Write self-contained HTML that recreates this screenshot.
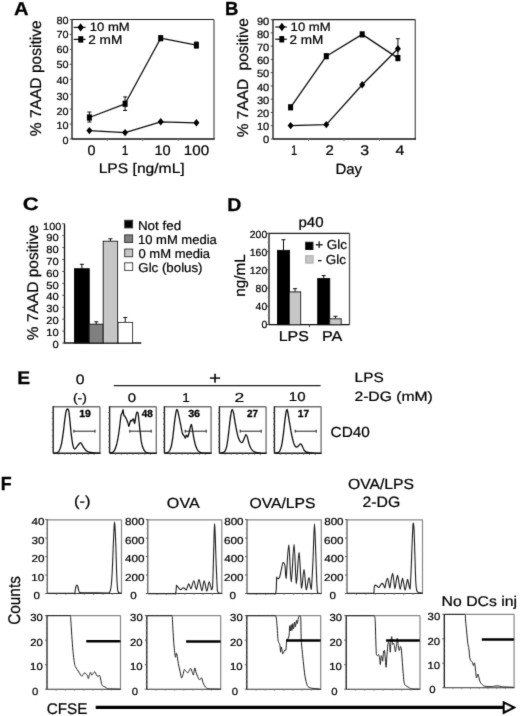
<!DOCTYPE html>
<html><head><meta charset="utf-8"><title>Figure</title>
<style>
html,body{margin:0;padding:0;background:#fff;}
svg{display:block;font-family:"Liberation Sans", sans-serif;text-rendering:geometricPrecision;}
</style></head>
<body>
<svg width="520" height="716" viewBox="0 0 520 716">
<defs><filter id="bl" x="0" y="0" width="100%" height="100%"><feConvolveMatrix order="3" kernelMatrix="1 8 1 8 64 8 1 8 1" divisor="100" edgeMode="none"/></filter></defs>
<rect x="0" y="0" width="520" height="716" fill="#fff"/>
<g filter="url(#bl)">
<text transform="translate(14.00,14.90) scale(1.0778,1)" font-size="18.696" font-weight="bold" fill="#000" stroke="#000" stroke-width="0.30">A</text>
<line x1="72.00" y1="19.50" x2="214.00" y2="19.50" stroke="#1a1a1a" stroke-width="1.2"/>
<line x1="214.00" y1="19.50" x2="214.00" y2="139.00" stroke="#666" stroke-width="1.4"/>
<line x1="72.00" y1="18.90" x2="72.00" y2="139.00" stroke="#111" stroke-width="1.3"/>
<line x1="72.00" y1="139.00" x2="214.70" y2="139.00" stroke="#111" stroke-width="1.3"/>
<line x1="69.80" y1="139.00" x2="72.00" y2="139.00" stroke="#444" stroke-width="1"/>
<text transform="translate(62.42,144.35) scale(1.0533,1)" font-size="10.282" fill="#000" stroke="#000" stroke-width="0.22">0</text>
<line x1="69.80" y1="124.06" x2="72.00" y2="124.06" stroke="#444" stroke-width="1"/>
<text transform="translate(56.41,129.35) scale(1.0533,1)" font-size="10.282" fill="#000" stroke="#000" stroke-width="0.22">10</text>
<line x1="69.80" y1="109.12" x2="72.00" y2="109.12" stroke="#444" stroke-width="1"/>
<text transform="translate(56.41,114.75) scale(1.0533,1)" font-size="10.282" fill="#000" stroke="#000" stroke-width="0.22">20</text>
<line x1="69.80" y1="94.19" x2="72.00" y2="94.19" stroke="#444" stroke-width="1"/>
<text transform="translate(56.41,99.55) scale(1.0533,1)" font-size="10.282" fill="#000" stroke="#000" stroke-width="0.22">30</text>
<line x1="69.80" y1="79.25" x2="72.00" y2="79.25" stroke="#444" stroke-width="1"/>
<text transform="translate(56.41,83.55) scale(1.0533,1)" font-size="10.282" fill="#000" stroke="#000" stroke-width="0.22">40</text>
<line x1="69.80" y1="64.31" x2="72.00" y2="64.31" stroke="#444" stroke-width="1"/>
<text transform="translate(56.41,67.95) scale(1.0533,1)" font-size="10.282" fill="#000" stroke="#000" stroke-width="0.22">50</text>
<line x1="69.80" y1="49.38" x2="72.00" y2="49.38" stroke="#444" stroke-width="1"/>
<text transform="translate(56.41,53.05) scale(1.0533,1)" font-size="10.282" fill="#000" stroke="#000" stroke-width="0.22">60</text>
<line x1="69.80" y1="34.44" x2="72.00" y2="34.44" stroke="#444" stroke-width="1"/>
<text transform="translate(56.41,38.35) scale(1.0533,1)" font-size="10.282" fill="#000" stroke="#000" stroke-width="0.22">70</text>
<line x1="69.80" y1="19.50" x2="72.00" y2="19.50" stroke="#444" stroke-width="1"/>
<text transform="translate(56.41,23.50) scale(1.0533,1)" font-size="10.282" fill="#000" stroke="#000" stroke-width="0.22">80</text>
<line x1="107.25" y1="139.00" x2="107.25" y2="141.00" stroke="#777" stroke-width="1"/>
<line x1="142.75" y1="139.00" x2="142.75" y2="141.00" stroke="#777" stroke-width="1"/>
<line x1="178.25" y1="139.00" x2="178.25" y2="141.00" stroke="#777" stroke-width="1"/>
<text transform="translate(87.43,154.50) scale(1.0374,1)" font-size="13.800" fill="#000" stroke="#000" stroke-width="0.22">0</text>
<text transform="translate(121.79,154.50) scale(0.8763,1)" font-size="13.800" fill="#000" stroke="#000" stroke-width="0.22">1</text>
<text transform="translate(154.41,154.50) scale(1.0560,1)" font-size="13.800" fill="#000" stroke="#000" stroke-width="0.22">10</text>
<text transform="translate(183.86,154.50) scale(1.0986,1)" font-size="13.800" fill="#000" stroke="#000" stroke-width="0.22">100</text>
<text transform="translate(98.65,173.30) scale(1.1255,1)" font-size="13.900" fill="#000" stroke="#000" stroke-width="0.22">LPS [ng/mL]</text>
<text transform="translate(40.75,136.25) rotate(-90) scale(0.9983,1)" font-size="15.600" fill="#000" stroke="#000" stroke-width="0.22">% 7AAD positive</text>
<line x1="73.75" y1="27.40" x2="85.60" y2="27.40" stroke="#111" stroke-width="1.2"/>
<polygon points="80.60,23.20 83.70,27.40 80.60,31.60 77.50,27.40" fill="#000"/>
<text transform="translate(89.72,31.28) scale(1.0867,1)" font-size="12.042" fill="#000" stroke="#000" stroke-width="0.22">10 mM</text>
<line x1="73.75" y1="39.40" x2="85.60" y2="39.40" stroke="#111" stroke-width="1.2"/>
<rect x="78.30" y="36.20" width="5.00" height="6.40" fill="#000"/>
<text transform="translate(88.17,44.40) scale(1.0864,1)" font-size="12.571" fill="#000" stroke="#000" stroke-width="0.22">2 mM</text>
<polyline points="89.40,130.60 125.10,132.60 160.70,121.80 196.40,122.80" fill="none" stroke="#111" stroke-width="1.3" stroke-linejoin="round"/>
<polyline points="89.40,117.50 125.10,103.80 160.70,38.20 196.40,45.20" fill="none" stroke="#111" stroke-width="1.3" stroke-linejoin="round"/>
<line x1="89.40" y1="112.00" x2="89.40" y2="122.00" stroke="#111" stroke-width="1.0"/>
<line x1="87.40" y1="112.00" x2="91.40" y2="112.00" stroke="#111" stroke-width="1.0"/>
<line x1="87.40" y1="122.00" x2="91.40" y2="122.00" stroke="#111" stroke-width="1.0"/>
<line x1="125.10" y1="96.90" x2="125.10" y2="110.50" stroke="#111" stroke-width="1.0"/>
<line x1="123.10" y1="96.90" x2="127.10" y2="96.90" stroke="#111" stroke-width="1.0"/>
<line x1="123.10" y1="110.50" x2="127.10" y2="110.50" stroke="#111" stroke-width="1.0"/>
<line x1="160.70" y1="36.50" x2="160.70" y2="40.00" stroke="#111" stroke-width="1.0"/>
<line x1="158.70" y1="36.50" x2="162.70" y2="36.50" stroke="#111" stroke-width="1.0"/>
<line x1="158.70" y1="40.00" x2="162.70" y2="40.00" stroke="#111" stroke-width="1.0"/>
<line x1="196.40" y1="42.00" x2="196.40" y2="48.00" stroke="#111" stroke-width="1.0"/>
<line x1="194.40" y1="42.00" x2="198.40" y2="42.00" stroke="#111" stroke-width="1.0"/>
<line x1="194.40" y1="48.00" x2="198.40" y2="48.00" stroke="#111" stroke-width="1.0"/>
<polygon points="89.40,126.90 92.40,130.60 89.40,134.30 86.40,130.60" fill="#000"/>
<polygon points="125.10,128.90 128.10,132.60 125.10,136.30 122.10,132.60" fill="#000"/>
<polygon points="160.70,118.10 163.70,121.80 160.70,125.50 157.70,121.80" fill="#000"/>
<polygon points="196.40,119.10 199.40,122.80 196.40,126.50 193.40,122.80" fill="#000"/>
<rect x="86.90" y="114.40" width="5.00" height="6.20" fill="#000"/>
<rect x="122.60" y="100.70" width="5.00" height="6.20" fill="#000"/>
<rect x="158.20" y="35.10" width="5.00" height="6.20" fill="#000"/>
<rect x="193.90" y="42.10" width="5.00" height="6.20" fill="#000"/>
<text transform="translate(224.90,14.90) scale(0.9757,1)" font-size="18.986" font-weight="bold" fill="#000" stroke="#000" stroke-width="0.30">B</text>
<line x1="273.00" y1="19.60" x2="415.30" y2="19.60" stroke="#1a1a1a" stroke-width="1.2"/>
<line x1="415.30" y1="19.60" x2="415.30" y2="139.00" stroke="#666" stroke-width="1.4"/>
<line x1="273.00" y1="19.00" x2="273.00" y2="139.00" stroke="#111" stroke-width="1.3"/>
<line x1="273.00" y1="139.00" x2="416.00" y2="139.00" stroke="#111" stroke-width="1.3"/>
<line x1="270.80" y1="139.00" x2="273.00" y2="139.00" stroke="#444" stroke-width="1"/>
<text transform="translate(263.07,143.44) scale(1.0529,1)" font-size="10.563" fill="#000" stroke="#000" stroke-width="0.22">0</text>
<line x1="270.80" y1="125.73" x2="273.00" y2="125.73" stroke="#444" stroke-width="1"/>
<text transform="translate(256.90,130.24) scale(1.0529,1)" font-size="10.563" fill="#000" stroke="#000" stroke-width="0.22">10</text>
<line x1="270.80" y1="112.47" x2="273.00" y2="112.47" stroke="#444" stroke-width="1"/>
<text transform="translate(256.90,117.04) scale(1.0529,1)" font-size="10.563" fill="#000" stroke="#000" stroke-width="0.22">20</text>
<line x1="270.80" y1="99.20" x2="273.00" y2="99.20" stroke="#444" stroke-width="1"/>
<text transform="translate(256.90,103.84) scale(1.0529,1)" font-size="10.563" fill="#000" stroke="#000" stroke-width="0.22">30</text>
<line x1="270.80" y1="85.93" x2="273.00" y2="85.93" stroke="#444" stroke-width="1"/>
<text transform="translate(256.90,90.64) scale(1.0529,1)" font-size="10.563" fill="#000" stroke="#000" stroke-width="0.22">40</text>
<line x1="270.80" y1="72.67" x2="273.00" y2="72.67" stroke="#444" stroke-width="1"/>
<text transform="translate(256.90,77.44) scale(1.0529,1)" font-size="10.563" fill="#000" stroke="#000" stroke-width="0.22">50</text>
<line x1="270.80" y1="59.40" x2="273.00" y2="59.40" stroke="#444" stroke-width="1"/>
<text transform="translate(256.90,64.24) scale(1.0529,1)" font-size="10.563" fill="#000" stroke="#000" stroke-width="0.22">60</text>
<line x1="270.80" y1="46.13" x2="273.00" y2="46.13" stroke="#444" stroke-width="1"/>
<text transform="translate(256.90,51.04) scale(1.0529,1)" font-size="10.563" fill="#000" stroke="#000" stroke-width="0.22">70</text>
<line x1="270.80" y1="32.87" x2="273.00" y2="32.87" stroke="#444" stroke-width="1"/>
<text transform="translate(256.90,37.84) scale(1.0529,1)" font-size="10.563" fill="#000" stroke="#000" stroke-width="0.22">80</text>
<line x1="270.80" y1="19.60" x2="273.00" y2="19.60" stroke="#444" stroke-width="1"/>
<text transform="translate(256.90,24.64) scale(1.0529,1)" font-size="10.563" fill="#000" stroke="#000" stroke-width="0.22">90</text>
<line x1="308.50" y1="139.00" x2="308.50" y2="141.00" stroke="#777" stroke-width="1"/>
<line x1="344.00" y1="139.00" x2="344.00" y2="141.00" stroke="#777" stroke-width="1"/>
<line x1="379.50" y1="139.00" x2="379.50" y2="141.00" stroke="#777" stroke-width="1"/>
<text transform="translate(291.06,155.30) scale(0.7973,1)" font-size="14.000" fill="#000" stroke="#000" stroke-width="0.22">1</text>
<text transform="translate(325.45,155.30) scale(1.0675,1)" font-size="14.000" fill="#000" stroke="#000" stroke-width="0.22">2</text>
<text transform="translate(360.36,155.30) scale(1.1398,1)" font-size="14.000" fill="#000" stroke="#000" stroke-width="0.22">3</text>
<text transform="translate(395.40,155.30) scale(1.1429,1)" font-size="14.000" fill="#000" stroke="#000" stroke-width="0.22">4</text>
<text transform="translate(335.40,173.50) scale(1.0125,1)" font-size="14.800" fill="#000" stroke="#000" stroke-width="0.22">Day</text>
<text transform="translate(248.20,137.14) rotate(-90) scale(0.9869,1)" font-size="15.600" fill="#000" stroke="#000" stroke-width="0.22" xml:space="preserve">% 7AAD  positive</text>
<line x1="275.25" y1="27.00" x2="286.90" y2="27.00" stroke="#111" stroke-width="1.2"/>
<polygon points="281.90,22.80 285.00,27.00 281.90,31.20 278.80,27.00" fill="#000"/>
<text transform="translate(290.62,31.28) scale(1.0896,1)" font-size="12.042" fill="#000" stroke="#000" stroke-width="0.22">10 mM</text>
<line x1="275.25" y1="39.25" x2="286.90" y2="39.25" stroke="#111" stroke-width="1.2"/>
<rect x="279.35" y="36.05" width="4.80" height="6.40" fill="#000"/>
<text transform="translate(289.42,44.40) scale(1.0780,1)" font-size="12.571" fill="#000" stroke="#000" stroke-width="0.22">2 mM</text>
<polyline points="290.60,125.60 326.30,124.60 362.20,84.80 397.90,48.80" fill="none" stroke="#111" stroke-width="1.3" stroke-linejoin="round"/>
<polyline points="290.60,107.30 326.30,56.20 362.20,34.40 397.90,58.10" fill="none" stroke="#111" stroke-width="1.3" stroke-linejoin="round"/>
<line x1="397.90" y1="38.70" x2="397.90" y2="58.90" stroke="#111" stroke-width="1.0"/>
<line x1="395.90" y1="38.70" x2="399.90" y2="38.70" stroke="#111" stroke-width="1.0"/>
<line x1="395.90" y1="58.90" x2="399.90" y2="58.90" stroke="#111" stroke-width="1.0"/>
<polygon points="290.60,121.90 293.60,125.60 290.60,129.30 287.60,125.60" fill="#000"/>
<polygon points="326.30,120.90 329.30,124.60 326.30,128.30 323.30,124.60" fill="#000"/>
<polygon points="362.20,81.10 365.20,84.80 362.20,88.50 359.20,84.80" fill="#000"/>
<polygon points="397.90,45.10 400.90,48.80 397.90,52.50 394.90,48.80" fill="#000"/>
<rect x="288.10" y="104.20" width="5.00" height="6.20" fill="#000"/>
<rect x="323.80" y="53.10" width="5.00" height="6.20" fill="#000"/>
<rect x="359.70" y="31.30" width="5.00" height="6.20" fill="#000"/>
<rect x="395.40" y="55.00" width="5.00" height="6.20" fill="#000"/>
<text transform="translate(22.82,210.12) scale(1.2195,1)" font-size="18.028" font-weight="bold" fill="#000" stroke="#000" stroke-width="0.30">C</text>
<line x1="64.50" y1="223.75" x2="64.50" y2="343.00" stroke="#111" stroke-width="1.3"/>
<line x1="63.75" y1="343.00" x2="141.25" y2="343.00" stroke="#111" stroke-width="1.3"/>
<line x1="62.30" y1="343.00" x2="64.50" y2="343.00" stroke="#444" stroke-width="1"/>
<text transform="translate(52.42,347.75) scale(1.0912,1)" font-size="10.282" fill="#000" stroke="#000" stroke-width="0.22">0</text>
<line x1="62.30" y1="331.07" x2="64.50" y2="331.07" stroke="#444" stroke-width="1"/>
<text transform="translate(46.20,335.93) scale(1.0912,1)" font-size="10.282" fill="#000" stroke="#000" stroke-width="0.22">10</text>
<line x1="62.30" y1="319.15" x2="64.50" y2="319.15" stroke="#444" stroke-width="1"/>
<text transform="translate(46.20,324.11) scale(1.0912,1)" font-size="10.282" fill="#000" stroke="#000" stroke-width="0.22">20</text>
<line x1="62.30" y1="307.23" x2="64.50" y2="307.23" stroke="#444" stroke-width="1"/>
<text transform="translate(46.20,312.29) scale(1.0912,1)" font-size="10.282" fill="#000" stroke="#000" stroke-width="0.22">30</text>
<line x1="62.30" y1="295.30" x2="64.50" y2="295.30" stroke="#444" stroke-width="1"/>
<text transform="translate(46.20,300.47) scale(1.0912,1)" font-size="10.282" fill="#000" stroke="#000" stroke-width="0.22">40</text>
<line x1="62.30" y1="283.38" x2="64.50" y2="283.38" stroke="#444" stroke-width="1"/>
<text transform="translate(46.20,288.65) scale(1.0912,1)" font-size="10.282" fill="#000" stroke="#000" stroke-width="0.22">50</text>
<line x1="62.30" y1="271.45" x2="64.50" y2="271.45" stroke="#444" stroke-width="1"/>
<text transform="translate(46.20,276.83) scale(1.0912,1)" font-size="10.282" fill="#000" stroke="#000" stroke-width="0.22">60</text>
<line x1="62.30" y1="259.52" x2="64.50" y2="259.52" stroke="#444" stroke-width="1"/>
<text transform="translate(46.20,265.01) scale(1.0912,1)" font-size="10.282" fill="#000" stroke="#000" stroke-width="0.22">70</text>
<line x1="62.30" y1="247.60" x2="64.50" y2="247.60" stroke="#444" stroke-width="1"/>
<text transform="translate(46.20,253.19) scale(1.0912,1)" font-size="10.282" fill="#000" stroke="#000" stroke-width="0.22">80</text>
<line x1="62.30" y1="235.68" x2="64.50" y2="235.68" stroke="#444" stroke-width="1"/>
<text transform="translate(46.20,241.37) scale(1.0912,1)" font-size="10.282" fill="#000" stroke="#000" stroke-width="0.22">90</text>
<line x1="62.30" y1="223.75" x2="64.50" y2="223.75" stroke="#444" stroke-width="1"/>
<text transform="translate(43.08,229.50) scale(1.0605,1)" font-size="10.282" fill="#000" stroke="#000" stroke-width="0.22">100</text>
<text transform="translate(38.10,340.14) rotate(-90) scale(0.9931,1)" font-size="15.600" fill="#000" stroke="#000" stroke-width="0.22">% 7AAD positive</text>
<line x1="81.88" y1="268.71" x2="81.88" y2="264.30" stroke="#111" stroke-width="1"/>
<line x1="79.88" y1="264.30" x2="83.88" y2="264.30" stroke="#111" stroke-width="1"/>
<rect x="74.50" y="268.71" width="14.75" height="74.29" fill="#000" stroke="#111" stroke-width="1"/>
<line x1="96.25" y1="324.28" x2="96.25" y2="321.77" stroke="#111" stroke-width="1"/>
<line x1="94.25" y1="321.77" x2="98.25" y2="321.77" stroke="#111" stroke-width="1"/>
<rect x="89.25" y="324.28" width="14.00" height="18.72" fill="#808080" stroke="#111" stroke-width="1"/>
<line x1="110.38" y1="241.28" x2="110.38" y2="238.78" stroke="#111" stroke-width="1"/>
<line x1="108.38" y1="238.78" x2="112.38" y2="238.78" stroke="#111" stroke-width="1"/>
<rect x="103.25" y="241.28" width="14.25" height="101.72" fill="#c6c6c6" stroke="#111" stroke-width="1"/>
<line x1="125.25" y1="322.49" x2="125.25" y2="317.48" stroke="#111" stroke-width="1"/>
<line x1="123.25" y1="317.48" x2="127.25" y2="317.48" stroke="#111" stroke-width="1"/>
<rect x="118.00" y="322.49" width="14.50" height="20.51" fill="#fff" stroke="#111" stroke-width="1"/>
<rect x="124.70" y="220.30" width="7.90" height="7.60" fill="#000" stroke="#333" stroke-width="1"/>
<text transform="translate(137.93,229.50) scale(1.0395,1)" font-size="12.900" fill="#000" stroke="#000" stroke-width="0.22">Not fed</text>
<rect x="124.70" y="234.90" width="7.90" height="7.60" fill="#808080" stroke="#333" stroke-width="1"/>
<text transform="translate(138.02,243.60) scale(1.0085,1)" font-size="12.900" fill="#000" stroke="#000" stroke-width="0.22">10 mM media</text>
<rect x="124.70" y="249.10" width="7.90" height="7.60" fill="#c6c6c6" stroke="#333" stroke-width="1"/>
<text transform="translate(138.48,258.20) scale(1.0095,1)" font-size="12.900" fill="#000" stroke="#000" stroke-width="0.22">0 mM media</text>
<rect x="124.70" y="262.80" width="7.90" height="7.60" fill="#fff" stroke="#333" stroke-width="1"/>
<text transform="translate(138.34,272.00) scale(1.0298,1)" font-size="12.900" fill="#000" stroke="#000" stroke-width="0.22">Glc (bolus)</text>
<text transform="translate(227.13,210.50) scale(1.0437,1)" font-size="18.696" font-weight="bold" fill="#000" stroke="#000" stroke-width="0.30">D</text>
<line x1="269.00" y1="233.30" x2="349.50" y2="233.30" stroke="#222" stroke-width="1.2"/>
<line x1="349.50" y1="233.30" x2="349.50" y2="324.60" stroke="#555" stroke-width="1.3"/>
<line x1="269.00" y1="233.30" x2="269.00" y2="324.60" stroke="#111" stroke-width="1.3"/>
<line x1="269.00" y1="324.60" x2="349.50" y2="324.60" stroke="#111" stroke-width="1.3"/>
<line x1="266.80" y1="324.60" x2="269.00" y2="324.60" stroke="#444" stroke-width="1"/>
<text transform="translate(261.40,328.05) scale(1.0189,1)" font-size="10.282" fill="#000" stroke="#000" stroke-width="0.22">0</text>
<line x1="266.80" y1="306.34" x2="269.00" y2="306.34" stroke="#444" stroke-width="1"/>
<text transform="translate(255.59,309.95) scale(1.0189,1)" font-size="10.282" fill="#000" stroke="#000" stroke-width="0.22">40</text>
<line x1="266.80" y1="288.08" x2="269.00" y2="288.08" stroke="#444" stroke-width="1"/>
<text transform="translate(255.59,291.85) scale(1.0189,1)" font-size="10.282" fill="#000" stroke="#000" stroke-width="0.22">80</text>
<line x1="266.80" y1="269.82" x2="269.00" y2="269.82" stroke="#444" stroke-width="1"/>
<text transform="translate(249.78,273.75) scale(1.0189,1)" font-size="10.282" fill="#000" stroke="#000" stroke-width="0.22">120</text>
<line x1="266.80" y1="251.56" x2="269.00" y2="251.56" stroke="#444" stroke-width="1"/>
<text transform="translate(249.78,255.65) scale(1.0189,1)" font-size="10.282" fill="#000" stroke="#000" stroke-width="0.22">160</text>
<line x1="266.80" y1="233.30" x2="269.00" y2="233.30" stroke="#444" stroke-width="1"/>
<text transform="translate(249.78,237.55) scale(1.0189,1)" font-size="10.282" fill="#000" stroke="#000" stroke-width="0.22">200</text>
<line x1="267.50" y1="315.47" x2="269.00" y2="315.47" stroke="#777" stroke-width="1"/>
<line x1="267.50" y1="297.21" x2="269.00" y2="297.21" stroke="#777" stroke-width="1"/>
<line x1="267.50" y1="278.95" x2="269.00" y2="278.95" stroke="#777" stroke-width="1"/>
<line x1="267.50" y1="260.69" x2="269.00" y2="260.69" stroke="#777" stroke-width="1"/>
<line x1="267.50" y1="242.43" x2="269.00" y2="242.43" stroke="#777" stroke-width="1"/>
<line x1="309.50" y1="324.60" x2="309.50" y2="327.10" stroke="#444" stroke-width="1"/>
<text transform="translate(298.42,226.50) scale(1.0609,1)" font-size="14.200" fill="#000" stroke="#000" stroke-width="0.22">p40</text>
<text transform="translate(244.60,296.80) rotate(-90) scale(1.0230,1)" font-size="15.000" fill="#000" stroke="#000" stroke-width="0.22">ng/mL</text>
<text transform="translate(278.73,341.00) scale(1.1133,1)" font-size="14.300" fill="#000" stroke="#000" stroke-width="0.22">LPS</text>
<text transform="translate(322.01,341.00) scale(1.1319,1)" font-size="14.300" fill="#000" stroke="#000" stroke-width="0.22">PA</text>
<line x1="283.50" y1="250.42" x2="283.50" y2="239.69" stroke="#111" stroke-width="1"/>
<line x1="281.50" y1="239.69" x2="285.50" y2="239.69" stroke="#111" stroke-width="1"/>
<rect x="277.50" y="250.42" width="12.00" height="74.18" fill="#000" stroke="#111" stroke-width="1"/>
<line x1="295.05" y1="291.91" x2="295.05" y2="288.63" stroke="#111" stroke-width="1"/>
<line x1="293.05" y1="288.63" x2="297.05" y2="288.63" stroke="#111" stroke-width="1"/>
<rect x="289.50" y="291.91" width="11.10" height="32.69" fill="#c6c6c6" stroke="#111" stroke-width="1"/>
<line x1="323.70" y1="278.58" x2="323.70" y2="275.57" stroke="#111" stroke-width="1"/>
<line x1="321.70" y1="275.57" x2="325.70" y2="275.57" stroke="#111" stroke-width="1"/>
<rect x="317.70" y="278.58" width="12.00" height="46.02" fill="#000" stroke="#111" stroke-width="1"/>
<line x1="335.45" y1="318.80" x2="335.45" y2="316.29" stroke="#111" stroke-width="1"/>
<line x1="333.45" y1="316.29" x2="337.45" y2="316.29" stroke="#111" stroke-width="1"/>
<rect x="329.70" y="318.80" width="11.50" height="5.80" fill="#c6c6c6" stroke="#111" stroke-width="1"/>
<rect x="305.70" y="242.30" width="7.20" height="7.20" fill="#000" stroke="#111" stroke-width="1"/>
<text transform="translate(315.22,249.37) scale(1.0354,1)" font-size="13.061" fill="#000" stroke="#000" stroke-width="0.22">+ Glc</text>
<rect x="305.70" y="255.70" width="7.40" height="7.40" fill="#c6c6c6" stroke="#aaa" stroke-width="1"/>
<text transform="translate(317.59,263.77) scale(1.0321,1)" font-size="13.061" fill="#000" stroke="#000" stroke-width="0.22">- Glc</text>
<text transform="translate(17.15,383.80) scale(1.0565,1)" font-size="18.261" font-weight="bold" fill="#000" stroke="#000" stroke-width="0.30">E</text>
<text transform="translate(75.77,384.16) scale(1.1557,1)" font-size="13.662" fill="#000" stroke="#000" stroke-width="0.22">0</text>
<text transform="translate(72.96,401.72) scale(1.1336,1)" font-size="12.299" fill="#000" stroke="#000" stroke-width="0.22">(-)</text>
<line x1="113.75" y1="385.70" x2="320.60" y2="385.70" stroke="#222" stroke-width="1.2"/>
<text transform="translate(209.07,383.98) scale(1.1748,1)" font-size="17.551" fill="#000" stroke="#000" stroke-width="0.22">+</text>
<text transform="translate(127.70,401.57) scale(1.1924,1)" font-size="12.535" fill="#000" stroke="#000" stroke-width="0.22">0</text>
<text transform="translate(182.19,401.70) scale(1.0457,1)" font-size="12.899" fill="#000" stroke="#000" stroke-width="0.22">1</text>
<text transform="translate(234.53,401.50) scale(1.3356,1)" font-size="13.000" fill="#000" stroke="#000" stroke-width="0.22">2</text>
<text transform="translate(288.77,401.37) scale(1.1762,1)" font-size="12.817" fill="#000" stroke="#000" stroke-width="0.22">10</text>
<text transform="translate(354.57,381.90) scale(1.1331,1)" font-size="13.600" fill="#000" stroke="#000" stroke-width="0.22">LPS</text>
<text transform="translate(354.42,401.20) scale(1.1530,1)" font-size="13.600" fill="#000" stroke="#000" stroke-width="0.22">2-DG (mM)</text>
<text transform="translate(330.53,436.70) scale(1.0531,1)" font-size="14.600" fill="#000" stroke="#000" stroke-width="0.22">CD40</text>
<line x1="53.20" y1="406.80" x2="99.90" y2="406.80" stroke="#707070" stroke-width="1.4"/>
<line x1="99.90" y1="406.80" x2="99.90" y2="453.30" stroke="#777" stroke-width="1.4"/>
<line x1="53.20" y1="406.10" x2="53.20" y2="453.30" stroke="#222" stroke-width="1.4"/>
<line x1="53.20" y1="453.30" x2="100.50" y2="453.30" stroke="#222" stroke-width="1.4"/>
<line x1="51.80" y1="412.52" x2="53.20" y2="412.52" stroke="#555" stroke-width="0.9"/>
<line x1="59.04" y1="453.30" x2="59.04" y2="454.80" stroke="#555" stroke-width="0.9"/>
<line x1="51.80" y1="418.35" x2="53.20" y2="418.35" stroke="#555" stroke-width="0.9"/>
<line x1="64.88" y1="453.30" x2="64.88" y2="454.80" stroke="#555" stroke-width="0.9"/>
<line x1="51.80" y1="424.18" x2="53.20" y2="424.18" stroke="#555" stroke-width="0.9"/>
<line x1="70.71" y1="453.30" x2="70.71" y2="454.80" stroke="#555" stroke-width="0.9"/>
<line x1="51.80" y1="430.00" x2="53.20" y2="430.00" stroke="#555" stroke-width="0.9"/>
<line x1="76.55" y1="453.30" x2="76.55" y2="454.80" stroke="#555" stroke-width="0.9"/>
<line x1="51.80" y1="435.82" x2="53.20" y2="435.82" stroke="#555" stroke-width="0.9"/>
<line x1="82.39" y1="453.30" x2="82.39" y2="454.80" stroke="#555" stroke-width="0.9"/>
<line x1="51.80" y1="441.65" x2="53.20" y2="441.65" stroke="#555" stroke-width="0.9"/>
<line x1="88.23" y1="453.30" x2="88.23" y2="454.80" stroke="#555" stroke-width="0.9"/>
<line x1="51.80" y1="447.47" x2="53.20" y2="447.47" stroke="#555" stroke-width="0.9"/>
<line x1="94.06" y1="453.30" x2="94.06" y2="454.80" stroke="#555" stroke-width="0.9"/>
<path d="M53.50,453.10 C54.07,453.05 55.95,453.10 56.90,452.80 C57.85,452.42 58.43,452.30 59.20,450.80 C59.97,449.30 60.82,446.88 61.50,443.80 C62.18,440.72 62.75,436.33 63.30,432.30 C63.85,428.27 64.32,423.15 64.80,419.60 C65.28,416.05 65.75,412.77 66.20,411.00 C66.65,409.23 67.08,409.10 67.50,409.00 C67.92,409.00 68.32,409.00 68.70,410.40 C69.08,412.17 69.37,415.57 69.80,419.60 C70.23,423.63 70.75,430.17 71.30,434.60 C71.85,439.03 72.52,443.80 73.10,446.20 C73.68,448.60 74.03,449.00 74.80,449.00 C75.57,448.90 76.73,446.65 77.70,445.60 C78.67,444.55 79.63,442.70 80.60,442.70 C81.57,442.98 82.55,445.95 83.50,447.30 C84.45,448.65 85.15,449.93 86.30,450.80 C87.45,451.67 88.75,452.12 90.40,452.50 C92.05,452.88 94.57,453.00 96.20,453.10 C97.83,453.10 99.53,453.10 100.20,453.10" fill="none" stroke="#111" stroke-width="1.3" stroke-linejoin="round"/>
<text transform="translate(79.22,417.20) scale(1.0189,1)" font-size="10.300" font-weight="bold" fill="#000" stroke="#000" stroke-width="0.30">19</text>
<line x1="73.90" y1="431.20" x2="95.00" y2="431.20" stroke="#222" stroke-width="1.0"/>
<line x1="73.90" y1="429.70" x2="73.90" y2="432.70" stroke="#222" stroke-width="1"/>
<line x1="95.00" y1="429.70" x2="95.00" y2="432.70" stroke="#222" stroke-width="1"/>
<line x1="109.60" y1="406.80" x2="156.30" y2="406.80" stroke="#707070" stroke-width="1.4"/>
<line x1="156.30" y1="406.80" x2="156.30" y2="453.30" stroke="#777" stroke-width="1.4"/>
<line x1="109.60" y1="406.10" x2="109.60" y2="453.30" stroke="#222" stroke-width="1.4"/>
<line x1="109.60" y1="453.30" x2="156.90" y2="453.30" stroke="#222" stroke-width="1.4"/>
<line x1="108.20" y1="412.52" x2="109.60" y2="412.52" stroke="#555" stroke-width="0.9"/>
<line x1="115.44" y1="453.30" x2="115.44" y2="454.80" stroke="#555" stroke-width="0.9"/>
<line x1="108.20" y1="418.35" x2="109.60" y2="418.35" stroke="#555" stroke-width="0.9"/>
<line x1="121.27" y1="453.30" x2="121.27" y2="454.80" stroke="#555" stroke-width="0.9"/>
<line x1="108.20" y1="424.18" x2="109.60" y2="424.18" stroke="#555" stroke-width="0.9"/>
<line x1="127.11" y1="453.30" x2="127.11" y2="454.80" stroke="#555" stroke-width="0.9"/>
<line x1="108.20" y1="430.00" x2="109.60" y2="430.00" stroke="#555" stroke-width="0.9"/>
<line x1="132.95" y1="453.30" x2="132.95" y2="454.80" stroke="#555" stroke-width="0.9"/>
<line x1="108.20" y1="435.82" x2="109.60" y2="435.82" stroke="#555" stroke-width="0.9"/>
<line x1="138.79" y1="453.30" x2="138.79" y2="454.80" stroke="#555" stroke-width="0.9"/>
<line x1="108.20" y1="441.65" x2="109.60" y2="441.65" stroke="#555" stroke-width="0.9"/>
<line x1="144.62" y1="453.30" x2="144.62" y2="454.80" stroke="#555" stroke-width="0.9"/>
<line x1="108.20" y1="447.47" x2="109.60" y2="447.47" stroke="#555" stroke-width="0.9"/>
<line x1="150.46" y1="453.30" x2="150.46" y2="454.80" stroke="#555" stroke-width="0.9"/>
<path d="M110.20,453.30 C110.87,452.88 113.13,452.27 114.20,450.80 C115.27,449.33 115.88,447.13 116.60,444.50 C117.32,441.87 118.00,437.93 118.50,435.00 C119.00,432.07 119.27,429.50 119.60,426.90 C119.93,424.30 120.25,421.42 120.50,419.40 C120.75,417.38 120.88,415.75 121.10,414.80 C121.32,413.85 121.57,414.18 121.80,413.70 C122.03,413.22 122.30,412.58 122.50,411.90 C122.70,411.22 122.85,409.60 123.00,409.60 C123.15,409.70 123.25,411.53 123.40,412.50 C123.55,413.47 123.67,414.82 123.90,415.40 C124.13,415.98 124.55,415.72 124.80,416.00 C125.05,416.28 125.20,416.72 125.40,417.10 C125.60,417.48 125.77,417.82 126.00,418.30 C126.23,418.78 126.52,419.33 126.80,420.00 C127.08,420.67 127.43,421.53 127.70,422.30 C127.97,423.07 128.22,423.92 128.40,424.60 C128.58,425.28 128.63,426.40 128.80,426.40 C128.97,426.40 129.18,425.28 129.40,424.60 C129.62,423.92 129.85,423.02 130.10,422.30 C130.35,421.58 130.63,420.48 130.90,420.30 C131.17,420.30 131.42,421.20 131.70,421.20 C131.98,421.05 132.30,419.80 132.60,419.40 C132.90,419.00 133.27,418.80 133.50,418.80 C133.73,419.18 133.82,420.92 134.00,421.70 C134.18,422.48 134.40,423.50 134.60,423.50 C134.80,423.32 135.00,421.77 135.20,420.60 C135.40,419.43 135.58,417.75 135.80,416.50 C136.02,415.25 136.27,413.82 136.50,413.10 C136.73,412.38 136.95,412.20 137.20,412.20 C137.45,412.20 137.78,412.38 138.00,413.10 C138.22,413.82 138.32,414.97 138.50,416.50 C138.68,418.03 138.90,420.37 139.10,422.30 C139.30,424.23 139.50,426.37 139.70,428.10 C139.90,429.83 140.05,430.55 140.30,432.70 C140.55,434.85 140.83,438.70 141.20,441.00 C141.57,443.30 142.00,444.95 142.50,446.50 C143.00,448.05 143.53,449.30 144.20,450.30 C144.87,451.30 145.33,452.00 146.50,452.50 C147.67,453.00 149.65,453.17 151.20,453.30 C152.75,453.30 155.03,453.30 155.80,453.30" fill="none" stroke="#111" stroke-width="1.3" stroke-linejoin="round"/>
<text transform="translate(141.65,417.20) scale(0.9663,1)" font-size="10.300" font-weight="bold" fill="#000" stroke="#000" stroke-width="0.30">48</text>
<line x1="129.80" y1="431.20" x2="151.20" y2="431.20" stroke="#222" stroke-width="1.0"/>
<line x1="129.80" y1="429.70" x2="129.80" y2="432.70" stroke="#222" stroke-width="1"/>
<line x1="151.20" y1="429.70" x2="151.20" y2="432.70" stroke="#222" stroke-width="1"/>
<line x1="164.40" y1="406.80" x2="211.10" y2="406.80" stroke="#707070" stroke-width="1.4"/>
<line x1="211.10" y1="406.80" x2="211.10" y2="453.30" stroke="#777" stroke-width="1.4"/>
<line x1="164.40" y1="406.10" x2="164.40" y2="453.30" stroke="#222" stroke-width="1.4"/>
<line x1="164.40" y1="453.30" x2="211.70" y2="453.30" stroke="#222" stroke-width="1.4"/>
<line x1="163.00" y1="412.52" x2="164.40" y2="412.52" stroke="#555" stroke-width="0.9"/>
<line x1="170.24" y1="453.30" x2="170.24" y2="454.80" stroke="#555" stroke-width="0.9"/>
<line x1="163.00" y1="418.35" x2="164.40" y2="418.35" stroke="#555" stroke-width="0.9"/>
<line x1="176.08" y1="453.30" x2="176.08" y2="454.80" stroke="#555" stroke-width="0.9"/>
<line x1="163.00" y1="424.18" x2="164.40" y2="424.18" stroke="#555" stroke-width="0.9"/>
<line x1="181.91" y1="453.30" x2="181.91" y2="454.80" stroke="#555" stroke-width="0.9"/>
<line x1="163.00" y1="430.00" x2="164.40" y2="430.00" stroke="#555" stroke-width="0.9"/>
<line x1="187.75" y1="453.30" x2="187.75" y2="454.80" stroke="#555" stroke-width="0.9"/>
<line x1="163.00" y1="435.82" x2="164.40" y2="435.82" stroke="#555" stroke-width="0.9"/>
<line x1="193.59" y1="453.30" x2="193.59" y2="454.80" stroke="#555" stroke-width="0.9"/>
<line x1="163.00" y1="441.65" x2="164.40" y2="441.65" stroke="#555" stroke-width="0.9"/>
<line x1="199.43" y1="453.30" x2="199.43" y2="454.80" stroke="#555" stroke-width="0.9"/>
<line x1="163.00" y1="447.47" x2="164.40" y2="447.47" stroke="#555" stroke-width="0.9"/>
<line x1="205.26" y1="453.30" x2="205.26" y2="454.80" stroke="#555" stroke-width="0.9"/>
<path d="M164.60,453.30 C165.28,453.07 167.63,452.90 168.70,451.90 C169.77,450.90 170.33,449.60 171.00,447.30 C171.67,445.00 172.13,442.13 172.70,438.10 C173.27,434.07 173.87,427.33 174.40,423.10 C174.93,418.87 175.52,414.97 175.90,412.70 C176.28,410.43 176.37,409.70 176.70,409.50 C177.03,409.50 177.52,410.30 177.90,411.50 C178.28,412.70 178.52,414.38 179.00,416.70 C179.48,419.02 180.22,422.60 180.80,425.40 C181.38,428.20 181.93,431.77 182.50,433.50 C183.07,435.23 183.72,435.03 184.20,435.80 C184.68,436.57 185.02,438.10 185.40,438.10 C185.78,438.00 186.12,435.40 186.50,435.20 C186.88,435.20 187.32,436.90 187.70,436.90 C188.08,436.70 188.38,435.53 188.80,434.00 C189.22,432.47 189.77,429.28 190.20,427.70 C190.63,426.12 191.02,424.50 191.40,424.50 C191.78,424.88 192.07,427.55 192.50,430.00 C192.93,432.45 193.45,436.50 194.00,439.20 C194.55,441.90 195.12,444.27 195.80,446.20 C196.48,448.13 197.15,449.70 198.10,450.80 C199.05,451.90 199.38,452.38 201.50,452.80 C203.62,453.22 209.25,453.22 210.80,453.30" fill="none" stroke="#111" stroke-width="1.3" stroke-linejoin="round"/>
<text transform="translate(188.13,417.20) scale(1.0448,1)" font-size="10.300" font-weight="bold" fill="#000" stroke="#000" stroke-width="0.30">36</text>
<line x1="185.20" y1="431.20" x2="206.20" y2="431.20" stroke="#222" stroke-width="1.0"/>
<line x1="185.20" y1="429.70" x2="185.20" y2="432.70" stroke="#222" stroke-width="1"/>
<line x1="206.20" y1="429.70" x2="206.20" y2="432.70" stroke="#222" stroke-width="1"/>
<line x1="219.40" y1="406.80" x2="266.10" y2="406.80" stroke="#707070" stroke-width="1.4"/>
<line x1="266.10" y1="406.80" x2="266.10" y2="453.30" stroke="#777" stroke-width="1.4"/>
<line x1="219.40" y1="406.10" x2="219.40" y2="453.30" stroke="#222" stroke-width="1.4"/>
<line x1="219.40" y1="453.30" x2="266.70" y2="453.30" stroke="#222" stroke-width="1.4"/>
<line x1="218.00" y1="412.52" x2="219.40" y2="412.52" stroke="#555" stroke-width="0.9"/>
<line x1="225.24" y1="453.30" x2="225.24" y2="454.80" stroke="#555" stroke-width="0.9"/>
<line x1="218.00" y1="418.35" x2="219.40" y2="418.35" stroke="#555" stroke-width="0.9"/>
<line x1="231.08" y1="453.30" x2="231.08" y2="454.80" stroke="#555" stroke-width="0.9"/>
<line x1="218.00" y1="424.18" x2="219.40" y2="424.18" stroke="#555" stroke-width="0.9"/>
<line x1="236.91" y1="453.30" x2="236.91" y2="454.80" stroke="#555" stroke-width="0.9"/>
<line x1="218.00" y1="430.00" x2="219.40" y2="430.00" stroke="#555" stroke-width="0.9"/>
<line x1="242.75" y1="453.30" x2="242.75" y2="454.80" stroke="#555" stroke-width="0.9"/>
<line x1="218.00" y1="435.82" x2="219.40" y2="435.82" stroke="#555" stroke-width="0.9"/>
<line x1="248.59" y1="453.30" x2="248.59" y2="454.80" stroke="#555" stroke-width="0.9"/>
<line x1="218.00" y1="441.65" x2="219.40" y2="441.65" stroke="#555" stroke-width="0.9"/>
<line x1="254.43" y1="453.30" x2="254.43" y2="454.80" stroke="#555" stroke-width="0.9"/>
<line x1="218.00" y1="447.47" x2="219.40" y2="447.47" stroke="#555" stroke-width="0.9"/>
<line x1="260.26" y1="453.30" x2="260.26" y2="454.80" stroke="#555" stroke-width="0.9"/>
<path d="M219.60,453.30 C220.37,453.07 223.05,452.90 224.20,451.90 C225.35,450.90 225.82,449.98 226.50,447.30 C227.18,444.62 227.72,440.22 228.30,435.80 C228.88,431.38 229.48,424.85 230.00,420.80 C230.52,416.75 231.02,413.38 231.40,411.50 C231.78,409.62 231.95,409.50 232.30,409.50 C232.65,409.70 233.02,410.43 233.50,412.70 C233.98,414.97 234.53,419.45 235.20,423.10 C235.87,426.75 236.73,431.62 237.50,434.60 C238.27,437.58 239.03,439.65 239.80,441.00 C240.57,442.35 241.33,442.70 242.10,442.70 C242.87,442.22 243.77,439.45 244.40,438.10 C245.03,436.75 245.42,434.80 245.90,434.60 C246.38,434.60 246.78,435.37 247.30,436.90 C247.82,438.43 248.33,441.78 249.00,443.80 C249.67,445.82 250.33,447.60 251.30,449.00 C252.27,450.40 253.15,451.48 254.80,452.20 C256.45,452.92 259.37,453.12 261.20,453.30 C263.03,453.30 265.03,453.30 265.80,453.30" fill="none" stroke="#111" stroke-width="1.3" stroke-linejoin="round"/>
<text transform="translate(247.05,417.20) scale(0.9614,1)" font-size="10.300" font-weight="bold" fill="#000" stroke="#000" stroke-width="0.30">27</text>
<line x1="240.20" y1="431.20" x2="261.20" y2="431.20" stroke="#222" stroke-width="1.0"/>
<line x1="240.20" y1="429.70" x2="240.20" y2="432.70" stroke="#222" stroke-width="1"/>
<line x1="261.20" y1="429.70" x2="261.20" y2="432.70" stroke="#222" stroke-width="1"/>
<line x1="274.40" y1="406.80" x2="321.10" y2="406.80" stroke="#707070" stroke-width="1.4"/>
<line x1="321.10" y1="406.80" x2="321.10" y2="453.30" stroke="#777" stroke-width="1.4"/>
<line x1="274.40" y1="406.10" x2="274.40" y2="453.30" stroke="#222" stroke-width="1.4"/>
<line x1="274.40" y1="453.30" x2="321.70" y2="453.30" stroke="#222" stroke-width="1.4"/>
<line x1="273.00" y1="412.52" x2="274.40" y2="412.52" stroke="#555" stroke-width="0.9"/>
<line x1="280.24" y1="453.30" x2="280.24" y2="454.80" stroke="#555" stroke-width="0.9"/>
<line x1="273.00" y1="418.35" x2="274.40" y2="418.35" stroke="#555" stroke-width="0.9"/>
<line x1="286.07" y1="453.30" x2="286.07" y2="454.80" stroke="#555" stroke-width="0.9"/>
<line x1="273.00" y1="424.18" x2="274.40" y2="424.18" stroke="#555" stroke-width="0.9"/>
<line x1="291.91" y1="453.30" x2="291.91" y2="454.80" stroke="#555" stroke-width="0.9"/>
<line x1="273.00" y1="430.00" x2="274.40" y2="430.00" stroke="#555" stroke-width="0.9"/>
<line x1="297.75" y1="453.30" x2="297.75" y2="454.80" stroke="#555" stroke-width="0.9"/>
<line x1="273.00" y1="435.82" x2="274.40" y2="435.82" stroke="#555" stroke-width="0.9"/>
<line x1="303.59" y1="453.30" x2="303.59" y2="454.80" stroke="#555" stroke-width="0.9"/>
<line x1="273.00" y1="441.65" x2="274.40" y2="441.65" stroke="#555" stroke-width="0.9"/>
<line x1="309.42" y1="453.30" x2="309.42" y2="454.80" stroke="#555" stroke-width="0.9"/>
<line x1="273.00" y1="447.47" x2="274.40" y2="447.47" stroke="#555" stroke-width="0.9"/>
<line x1="315.26" y1="453.30" x2="315.26" y2="454.80" stroke="#555" stroke-width="0.9"/>
<path d="M274.60,453.30 C275.37,453.07 278.05,453.08 279.20,451.90 C280.35,450.72 280.82,449.08 281.50,446.20 C282.18,443.32 282.72,439.03 283.30,434.60 C283.88,430.17 284.52,423.45 285.00,419.60 C285.48,415.75 285.85,413.18 286.20,411.50 C286.55,409.82 286.82,409.50 287.10,409.50 C287.38,409.70 287.48,410.43 287.90,412.70 C288.32,414.97 288.93,419.25 289.60,423.10 C290.27,426.95 291.13,432.25 291.90,435.80 C292.67,439.35 293.43,442.52 294.20,444.40 C294.97,446.28 295.73,446.90 296.50,447.10 C297.27,447.10 298.12,446.15 298.80,445.60 C299.48,445.05 300.02,443.80 300.60,443.80 C301.18,443.90 301.63,445.03 302.30,446.20 C302.97,447.37 303.63,449.75 304.60,450.80 C305.57,451.85 306.17,452.08 308.10,452.50 C310.03,452.92 314.08,453.17 316.20,453.30 C318.32,453.30 320.03,453.30 320.80,453.30" fill="none" stroke="#111" stroke-width="1.3" stroke-linejoin="round"/>
<text transform="translate(297.74,417.20) scale(0.9903,1)" font-size="10.300" font-weight="bold" fill="#000" stroke="#000" stroke-width="0.30">17</text>
<line x1="295.20" y1="431.20" x2="316.20" y2="431.20" stroke="#222" stroke-width="1.0"/>
<line x1="295.20" y1="429.70" x2="295.20" y2="432.70" stroke="#222" stroke-width="1"/>
<line x1="316.20" y1="429.70" x2="316.20" y2="432.70" stroke="#222" stroke-width="1"/>
<text transform="translate(0.64,490.40) scale(0.9398,1)" font-size="18.986" font-weight="bold" fill="#000" stroke="#000" stroke-width="0.30">F</text>
<text transform="translate(73.91,505.85) scale(1.1393,1)" font-size="14.545" fill="#000" stroke="#000" stroke-width="0.22">(-)</text>
<text transform="translate(166.87,508.45) scale(1.1012,1)" font-size="14.648" fill="#000" stroke="#000" stroke-width="0.22">OVA</text>
<text transform="translate(249.39,507.76) scale(1.0919,1)" font-size="14.422" fill="#000" stroke="#000" stroke-width="0.22">OVA/LPS</text>
<text transform="translate(347.89,488.95) scale(1.0717,1)" font-size="14.694" fill="#000" stroke="#000" stroke-width="0.22">OVA/LPS</text>
<text transform="translate(362.41,507.45) scale(1.0616,1)" font-size="14.930" fill="#000" stroke="#000" stroke-width="0.22">2-DG</text>
<text transform="translate(20.03,624.87) rotate(-90) scale(0.9110,1)" font-size="16.901" fill="#000" stroke="#000" stroke-width="0.22">Counts</text>
<text transform="translate(46.74,713.55) scale(0.9851,1)" font-size="15.493" fill="#000" stroke="#000" stroke-width="0.22">CFSE</text>
<text transform="translate(441.54,605.84) scale(1.1199,1)" font-size="14.118" fill="#000" stroke="#000" stroke-width="0.22">No DCs inj</text>
<line x1="95.70" y1="707.40" x2="503.50" y2="707.40" stroke="#000" stroke-width="3.4"/>
<polygon points="503.8,702.6 514.0,707.5 503.8,712.6" fill="#fff" stroke="#000" stroke-width="2.2" stroke-linejoin="miter"/>
<line x1="47.20" y1="519.80" x2="121.50" y2="519.80" stroke="#888" stroke-width="1.2"/>
<line x1="121.50" y1="519.60" x2="121.50" y2="593.50" stroke="#888" stroke-width="1.2"/>
<line x1="47.20" y1="519.30" x2="47.20" y2="593.50" stroke="#444" stroke-width="1.1"/>
<line x1="47.20" y1="593.50" x2="122.00" y2="593.50" stroke="#333" stroke-width="1.1"/>
<line x1="45.20" y1="593.50" x2="47.20" y2="593.50" stroke="#555" stroke-width="1"/>
<line x1="46.00" y1="588.88" x2="47.20" y2="588.88" stroke="#888" stroke-width="0.8"/>
<line x1="46.00" y1="584.26" x2="47.20" y2="584.26" stroke="#888" stroke-width="0.8"/>
<line x1="46.00" y1="579.64" x2="47.20" y2="579.64" stroke="#888" stroke-width="0.8"/>
<text transform="translate(33.56,599.30) scale(1.1512,1)" font-size="10.141" fill="#000" stroke="#000" stroke-width="0.22">0</text>
<line x1="45.20" y1="575.02" x2="47.20" y2="575.02" stroke="#555" stroke-width="1"/>
<line x1="46.00" y1="570.41" x2="47.20" y2="570.41" stroke="#888" stroke-width="0.8"/>
<line x1="46.00" y1="565.79" x2="47.20" y2="565.79" stroke="#888" stroke-width="0.8"/>
<line x1="46.00" y1="561.17" x2="47.20" y2="561.17" stroke="#888" stroke-width="0.8"/>
<text transform="translate(31.32,580.82) scale(1.1512,1)" font-size="10.141" fill="#000" stroke="#000" stroke-width="0.22">10</text>
<line x1="45.20" y1="556.55" x2="47.20" y2="556.55" stroke="#555" stroke-width="1"/>
<line x1="46.00" y1="551.93" x2="47.20" y2="551.93" stroke="#888" stroke-width="0.8"/>
<line x1="46.00" y1="547.31" x2="47.20" y2="547.31" stroke="#888" stroke-width="0.8"/>
<line x1="46.00" y1="542.69" x2="47.20" y2="542.69" stroke="#888" stroke-width="0.8"/>
<text transform="translate(31.46,562.35) scale(1.1512,1)" font-size="10.141" fill="#000" stroke="#000" stroke-width="0.22">20</text>
<line x1="45.20" y1="538.08" x2="47.20" y2="538.08" stroke="#555" stroke-width="1"/>
<line x1="46.00" y1="533.46" x2="47.20" y2="533.46" stroke="#888" stroke-width="0.8"/>
<line x1="46.00" y1="528.84" x2="47.20" y2="528.84" stroke="#888" stroke-width="0.8"/>
<line x1="46.00" y1="524.22" x2="47.20" y2="524.22" stroke="#888" stroke-width="0.8"/>
<text transform="translate(31.52,543.87) scale(1.1512,1)" font-size="10.141" fill="#000" stroke="#000" stroke-width="0.22">30</text>
<line x1="45.20" y1="519.60" x2="47.20" y2="519.60" stroke="#555" stroke-width="1"/>
<text transform="translate(31.61,525.40) scale(1.1512,1)" font-size="10.141" fill="#000" stroke="#000" stroke-width="0.22">40</text>
<line x1="56.49" y1="593.50" x2="56.49" y2="595.00" stroke="#777" stroke-width="0.8"/>
<line x1="65.78" y1="593.50" x2="65.78" y2="595.00" stroke="#777" stroke-width="0.8"/>
<line x1="75.06" y1="593.50" x2="75.06" y2="595.00" stroke="#777" stroke-width="0.8"/>
<line x1="84.35" y1="593.50" x2="84.35" y2="595.00" stroke="#777" stroke-width="0.8"/>
<line x1="93.64" y1="593.50" x2="93.64" y2="595.00" stroke="#777" stroke-width="0.8"/>
<line x1="102.92" y1="593.50" x2="102.92" y2="595.00" stroke="#777" stroke-width="0.8"/>
<line x1="112.21" y1="593.50" x2="112.21" y2="595.00" stroke="#777" stroke-width="0.8"/>
<path d="M47.50,593.20 C52.00,593.18 69.87,593.20 74.50,593.10 C75.30,592.57 75.05,591.10 75.30,590.00 C75.55,588.90 75.73,587.33 76.00,586.50 C76.27,585.67 76.60,585.00 76.90,585.00 C77.20,585.00 77.52,585.67 77.80,586.50 C78.08,587.33 78.32,589.03 78.60,590.00 C78.88,590.97 79.10,591.85 79.50,592.30 C79.90,592.70 80.08,592.62 81.00,592.70 C81.92,592.78 81.00,592.75 85.00,592.80 C89.50,592.85 103.83,593.00 108.00,593.00 C110.00,592.78 109.45,592.83 110.00,591.50 C110.55,590.17 110.92,588.58 111.30,585.00 C111.68,581.42 111.97,576.67 112.30,570.00 C112.63,563.33 113.00,552.17 113.30,545.00 C113.60,537.83 113.90,530.83 114.10,527.00 C114.30,523.17 114.35,522.00 114.50,522.00 C114.65,522.00 114.78,523.17 115.00,527.00 C115.22,530.83 115.53,537.50 115.80,545.00 C116.07,552.50 116.35,565.17 116.60,572.00 C116.85,578.83 117.07,582.75 117.30,586.00 C117.53,589.25 117.63,590.37 118.00,591.50 C118.37,592.63 118.95,592.55 119.50,592.80 C120.05,593.00 121.00,592.97 121.30,593.00" fill="none" stroke="#222" stroke-width="1.1" stroke-linejoin="round"/>
<line x1="147.80" y1="519.80" x2="221.80" y2="519.80" stroke="#888" stroke-width="1.2"/>
<line x1="221.80" y1="519.60" x2="221.80" y2="593.50" stroke="#888" stroke-width="1.2"/>
<line x1="147.80" y1="519.30" x2="147.80" y2="593.50" stroke="#444" stroke-width="1.1"/>
<line x1="147.80" y1="593.50" x2="222.30" y2="593.50" stroke="#333" stroke-width="1.1"/>
<line x1="145.80" y1="593.50" x2="147.80" y2="593.50" stroke="#555" stroke-width="1"/>
<line x1="146.60" y1="588.88" x2="147.80" y2="588.88" stroke="#888" stroke-width="0.8"/>
<line x1="146.60" y1="584.26" x2="147.80" y2="584.26" stroke="#888" stroke-width="0.8"/>
<line x1="146.60" y1="579.64" x2="147.80" y2="579.64" stroke="#888" stroke-width="0.8"/>
<text transform="translate(130.26,599.30) scale(1.1512,1)" font-size="10.141" fill="#000" stroke="#000" stroke-width="0.22">0</text>
<line x1="145.80" y1="575.02" x2="147.80" y2="575.02" stroke="#555" stroke-width="1"/>
<line x1="146.60" y1="570.41" x2="147.80" y2="570.41" stroke="#888" stroke-width="0.8"/>
<line x1="146.60" y1="565.79" x2="147.80" y2="565.79" stroke="#888" stroke-width="0.8"/>
<line x1="146.60" y1="561.17" x2="147.80" y2="561.17" stroke="#888" stroke-width="0.8"/>
<text transform="translate(124.92,580.82) scale(1.1512,1)" font-size="10.141" fill="#000" stroke="#000" stroke-width="0.22">200</text>
<line x1="145.80" y1="556.55" x2="147.80" y2="556.55" stroke="#555" stroke-width="1"/>
<line x1="146.60" y1="551.93" x2="147.80" y2="551.93" stroke="#888" stroke-width="0.8"/>
<line x1="146.60" y1="547.31" x2="147.80" y2="547.31" stroke="#888" stroke-width="0.8"/>
<line x1="146.60" y1="542.69" x2="147.80" y2="542.69" stroke="#888" stroke-width="0.8"/>
<text transform="translate(125.07,562.35) scale(1.1512,1)" font-size="10.141" fill="#000" stroke="#000" stroke-width="0.22">400</text>
<line x1="145.80" y1="538.08" x2="147.80" y2="538.08" stroke="#555" stroke-width="1"/>
<line x1="146.60" y1="533.46" x2="147.80" y2="533.46" stroke="#888" stroke-width="0.8"/>
<line x1="146.60" y1="528.84" x2="147.80" y2="528.84" stroke="#888" stroke-width="0.8"/>
<line x1="146.60" y1="524.22" x2="147.80" y2="524.22" stroke="#888" stroke-width="0.8"/>
<text transform="translate(124.92,543.87) scale(1.1512,1)" font-size="10.141" fill="#000" stroke="#000" stroke-width="0.22">600</text>
<line x1="145.80" y1="519.60" x2="147.80" y2="519.60" stroke="#555" stroke-width="1"/>
<text transform="translate(124.95,525.40) scale(1.1512,1)" font-size="10.141" fill="#000" stroke="#000" stroke-width="0.22">800</text>
<line x1="157.05" y1="593.50" x2="157.05" y2="595.00" stroke="#777" stroke-width="0.8"/>
<line x1="166.30" y1="593.50" x2="166.30" y2="595.00" stroke="#777" stroke-width="0.8"/>
<line x1="175.55" y1="593.50" x2="175.55" y2="595.00" stroke="#777" stroke-width="0.8"/>
<line x1="184.80" y1="593.50" x2="184.80" y2="595.00" stroke="#777" stroke-width="0.8"/>
<line x1="194.05" y1="593.50" x2="194.05" y2="595.00" stroke="#777" stroke-width="0.8"/>
<line x1="203.30" y1="593.50" x2="203.30" y2="595.00" stroke="#777" stroke-width="0.8"/>
<line x1="212.55" y1="593.50" x2="212.55" y2="595.00" stroke="#777" stroke-width="0.8"/>
<path d="M148.00,593.80 C152.53,593.80 170.45,593.80 175.20,593.80 C176.50,592.40 176.12,586.62 176.50,585.40 C176.88,585.40 176.82,585.77 177.50,586.50 C178.18,587.23 179.60,589.60 180.60,589.80 C181.60,589.80 182.55,587.70 183.50,587.70 C184.45,587.73 185.43,590.00 186.30,590.00 C187.17,589.33 187.92,583.90 188.70,583.70 C189.48,583.70 190.15,588.80 191.00,588.80 C191.85,588.32 192.90,580.80 193.80,580.80 C194.70,580.90 195.53,589.40 196.40,589.40 C197.27,589.20 198.08,579.60 199.00,579.60 C199.92,579.80 201.03,590.40 201.90,590.60 C202.77,590.60 203.38,580.80 204.20,580.80 C205.02,580.90 205.98,591.02 206.80,591.20 C207.62,591.20 208.30,582.15 209.10,581.90 C209.90,581.90 211.02,588.98 211.60,589.70 C212.18,589.70 212.30,589.70 212.60,586.20 C212.90,581.67 213.15,571.03 213.40,562.50 C213.65,553.97 213.90,541.50 214.10,535.00 C214.30,528.50 214.42,523.50 214.60,523.50 C214.78,523.50 214.95,528.50 215.20,535.00 C215.45,541.50 215.80,554.33 216.10,562.50 C216.40,570.67 216.77,579.25 217.00,584.00 C217.23,588.75 217.17,589.50 217.50,591.00 C217.83,592.50 218.20,592.58 219.00,593.00 C219.80,593.42 221.75,593.42 222.30,593.50" fill="none" stroke="#222" stroke-width="1.1" stroke-linejoin="round"/>
<line x1="247.00" y1="519.80" x2="321.30" y2="519.80" stroke="#888" stroke-width="1.2"/>
<line x1="321.30" y1="519.60" x2="321.30" y2="593.50" stroke="#888" stroke-width="1.2"/>
<line x1="247.00" y1="519.30" x2="247.00" y2="593.50" stroke="#444" stroke-width="1.1"/>
<line x1="247.00" y1="593.50" x2="321.80" y2="593.50" stroke="#333" stroke-width="1.1"/>
<line x1="245.00" y1="593.50" x2="247.00" y2="593.50" stroke="#555" stroke-width="1"/>
<line x1="245.80" y1="588.88" x2="247.00" y2="588.88" stroke="#888" stroke-width="0.8"/>
<line x1="245.80" y1="584.26" x2="247.00" y2="584.26" stroke="#888" stroke-width="0.8"/>
<line x1="245.80" y1="579.64" x2="247.00" y2="579.64" stroke="#888" stroke-width="0.8"/>
<text transform="translate(229.46,599.30) scale(1.1512,1)" font-size="10.141" fill="#000" stroke="#000" stroke-width="0.22">0</text>
<line x1="245.00" y1="575.02" x2="247.00" y2="575.02" stroke="#555" stroke-width="1"/>
<line x1="245.80" y1="570.41" x2="247.00" y2="570.41" stroke="#888" stroke-width="0.8"/>
<line x1="245.80" y1="565.79" x2="247.00" y2="565.79" stroke="#888" stroke-width="0.8"/>
<line x1="245.80" y1="561.17" x2="247.00" y2="561.17" stroke="#888" stroke-width="0.8"/>
<text transform="translate(224.12,580.82) scale(1.1512,1)" font-size="10.141" fill="#000" stroke="#000" stroke-width="0.22">200</text>
<line x1="245.00" y1="556.55" x2="247.00" y2="556.55" stroke="#555" stroke-width="1"/>
<line x1="245.80" y1="551.93" x2="247.00" y2="551.93" stroke="#888" stroke-width="0.8"/>
<line x1="245.80" y1="547.31" x2="247.00" y2="547.31" stroke="#888" stroke-width="0.8"/>
<line x1="245.80" y1="542.69" x2="247.00" y2="542.69" stroke="#888" stroke-width="0.8"/>
<text transform="translate(224.27,562.35) scale(1.1512,1)" font-size="10.141" fill="#000" stroke="#000" stroke-width="0.22">400</text>
<line x1="245.00" y1="538.08" x2="247.00" y2="538.08" stroke="#555" stroke-width="1"/>
<line x1="245.80" y1="533.46" x2="247.00" y2="533.46" stroke="#888" stroke-width="0.8"/>
<line x1="245.80" y1="528.84" x2="247.00" y2="528.84" stroke="#888" stroke-width="0.8"/>
<line x1="245.80" y1="524.22" x2="247.00" y2="524.22" stroke="#888" stroke-width="0.8"/>
<text transform="translate(224.12,543.87) scale(1.1512,1)" font-size="10.141" fill="#000" stroke="#000" stroke-width="0.22">600</text>
<line x1="245.00" y1="519.60" x2="247.00" y2="519.60" stroke="#555" stroke-width="1"/>
<text transform="translate(224.15,525.40) scale(1.1512,1)" font-size="10.141" fill="#000" stroke="#000" stroke-width="0.22">800</text>
<line x1="256.29" y1="593.50" x2="256.29" y2="595.00" stroke="#777" stroke-width="0.8"/>
<line x1="265.57" y1="593.50" x2="265.57" y2="595.00" stroke="#777" stroke-width="0.8"/>
<line x1="274.86" y1="593.50" x2="274.86" y2="595.00" stroke="#777" stroke-width="0.8"/>
<line x1="284.15" y1="593.50" x2="284.15" y2="595.00" stroke="#777" stroke-width="0.8"/>
<line x1="293.44" y1="593.50" x2="293.44" y2="595.00" stroke="#777" stroke-width="0.8"/>
<line x1="302.73" y1="593.50" x2="302.73" y2="595.00" stroke="#777" stroke-width="0.8"/>
<line x1="312.01" y1="593.50" x2="312.01" y2="595.00" stroke="#777" stroke-width="0.8"/>
<path d="M247.20,593.60 C251.93,593.60 270.68,593.60 275.60,593.60 C276.70,590.83 276.38,579.48 276.70,577.00 C277.02,577.00 277.03,578.67 277.50,578.75 C277.97,578.75 278.88,578.75 279.50,577.50 C280.12,576.04 280.67,572.50 281.25,570.00 C281.83,567.50 282.38,563.17 283.00,562.50 C283.62,562.50 284.48,563.33 285.00,566.00 C285.52,568.67 285.48,578.50 286.10,578.50 C286.73,575.00 287.89,545.00 288.75,545.00 C289.61,545.58 290.38,582.00 291.25,582.00 C292.12,581.92 293.14,544.50 294.00,544.50 C294.86,544.77 295.57,582.27 296.40,583.60 C297.23,583.60 298.13,552.50 299.00,552.50 C299.87,553.28 300.77,585.47 301.60,588.30 C302.43,588.30 303.22,569.50 304.00,569.50 C304.78,569.75 305.47,588.47 306.30,589.80 C307.13,589.80 308.18,577.57 309.00,577.50 C309.82,577.50 310.53,589.40 311.20,589.40 C311.87,586.48 312.45,570.94 313.00,560.00 C313.55,549.06 314.00,523.75 314.50,523.75 C315.00,523.75 315.50,548.54 316.00,560.00 C316.50,571.46 316.67,586.90 317.50,592.50 C318.33,593.60 320.42,593.42 321.00,593.60" fill="none" stroke="#222" stroke-width="1.1" stroke-linejoin="round"/>
<line x1="347.00" y1="519.80" x2="422.50" y2="519.80" stroke="#888" stroke-width="1.2"/>
<line x1="422.50" y1="519.60" x2="422.50" y2="593.50" stroke="#888" stroke-width="1.2"/>
<line x1="347.00" y1="519.30" x2="347.00" y2="593.50" stroke="#444" stroke-width="1.1"/>
<line x1="347.00" y1="593.50" x2="423.00" y2="593.50" stroke="#333" stroke-width="1.1"/>
<line x1="345.00" y1="593.50" x2="347.00" y2="593.50" stroke="#555" stroke-width="1"/>
<line x1="345.80" y1="588.88" x2="347.00" y2="588.88" stroke="#888" stroke-width="0.8"/>
<line x1="345.80" y1="584.26" x2="347.00" y2="584.26" stroke="#888" stroke-width="0.8"/>
<line x1="345.80" y1="579.64" x2="347.00" y2="579.64" stroke="#888" stroke-width="0.8"/>
<text transform="translate(329.46,599.30) scale(1.1512,1)" font-size="10.141" fill="#000" stroke="#000" stroke-width="0.22">0</text>
<line x1="345.00" y1="575.02" x2="347.00" y2="575.02" stroke="#555" stroke-width="1"/>
<line x1="345.80" y1="570.41" x2="347.00" y2="570.41" stroke="#888" stroke-width="0.8"/>
<line x1="345.80" y1="565.79" x2="347.00" y2="565.79" stroke="#888" stroke-width="0.8"/>
<line x1="345.80" y1="561.17" x2="347.00" y2="561.17" stroke="#888" stroke-width="0.8"/>
<text transform="translate(324.12,580.82) scale(1.1512,1)" font-size="10.141" fill="#000" stroke="#000" stroke-width="0.22">200</text>
<line x1="345.00" y1="556.55" x2="347.00" y2="556.55" stroke="#555" stroke-width="1"/>
<line x1="345.80" y1="551.93" x2="347.00" y2="551.93" stroke="#888" stroke-width="0.8"/>
<line x1="345.80" y1="547.31" x2="347.00" y2="547.31" stroke="#888" stroke-width="0.8"/>
<line x1="345.80" y1="542.69" x2="347.00" y2="542.69" stroke="#888" stroke-width="0.8"/>
<text transform="translate(324.27,562.35) scale(1.1512,1)" font-size="10.141" fill="#000" stroke="#000" stroke-width="0.22">400</text>
<line x1="345.00" y1="538.08" x2="347.00" y2="538.08" stroke="#555" stroke-width="1"/>
<line x1="345.80" y1="533.46" x2="347.00" y2="533.46" stroke="#888" stroke-width="0.8"/>
<line x1="345.80" y1="528.84" x2="347.00" y2="528.84" stroke="#888" stroke-width="0.8"/>
<line x1="345.80" y1="524.22" x2="347.00" y2="524.22" stroke="#888" stroke-width="0.8"/>
<text transform="translate(324.12,543.87) scale(1.1512,1)" font-size="10.141" fill="#000" stroke="#000" stroke-width="0.22">600</text>
<line x1="345.00" y1="519.60" x2="347.00" y2="519.60" stroke="#555" stroke-width="1"/>
<text transform="translate(324.15,525.40) scale(1.1512,1)" font-size="10.141" fill="#000" stroke="#000" stroke-width="0.22">800</text>
<line x1="356.44" y1="593.50" x2="356.44" y2="595.00" stroke="#777" stroke-width="0.8"/>
<line x1="365.88" y1="593.50" x2="365.88" y2="595.00" stroke="#777" stroke-width="0.8"/>
<line x1="375.31" y1="593.50" x2="375.31" y2="595.00" stroke="#777" stroke-width="0.8"/>
<line x1="384.75" y1="593.50" x2="384.75" y2="595.00" stroke="#777" stroke-width="0.8"/>
<line x1="394.19" y1="593.50" x2="394.19" y2="595.00" stroke="#777" stroke-width="0.8"/>
<line x1="403.62" y1="593.50" x2="403.62" y2="595.00" stroke="#777" stroke-width="0.8"/>
<line x1="413.06" y1="593.50" x2="413.06" y2="595.00" stroke="#777" stroke-width="0.8"/>
<path d="M347.20,593.20 C351.63,593.17 369.30,593.20 373.80,593.00 C374.20,592.13 374.07,589.17 374.20,588.00 C374.33,586.83 374.38,586.48 374.60,586.00 C374.82,585.52 375.05,585.10 375.50,585.10 C375.95,585.15 376.72,585.90 377.30,586.30 C377.88,586.70 378.42,587.50 379.00,587.50 C379.58,587.22 380.27,585.28 380.80,584.60 C381.33,583.92 381.73,583.40 382.20,583.40 C382.67,583.48 383.17,584.33 383.60,585.10 C384.03,585.87 384.35,588.00 384.80,588.00 C385.25,587.33 385.85,582.73 386.30,581.10 C386.75,579.47 387.12,578.20 387.50,578.20 C387.88,578.38 388.22,580.57 388.60,582.20 C388.98,583.83 389.37,588.00 389.80,588.00 C390.23,587.52 390.73,581.72 391.20,579.30 C391.67,576.88 392.18,573.50 392.60,573.50 C393.02,573.62 393.32,577.48 393.70,580.00 C394.08,582.52 394.45,588.60 394.90,588.60 C395.35,588.60 395.95,582.22 396.40,580.00 C396.85,577.78 397.22,575.30 397.60,575.30 C397.98,575.48 398.27,578.78 398.70,581.10 C399.13,583.42 399.72,589.02 400.20,589.20 C400.68,589.20 401.22,584.03 401.60,582.20 C401.98,580.37 402.15,578.20 402.50,578.20 C402.85,578.40 403.27,581.38 403.70,583.40 C404.13,585.42 404.62,590.30 405.10,590.30 C405.58,590.30 406.18,585.23 406.60,583.40 C407.02,581.57 407.23,579.30 407.60,579.30 C407.97,579.50 408.40,582.95 408.80,584.60 C409.20,586.25 409.62,589.20 410.00,589.20 C410.38,586.87 410.75,578.13 411.10,570.60 C411.45,563.07 411.78,551.72 412.10,544.00 C412.42,536.28 412.78,527.78 413.00,524.30 C413.22,523.10 413.22,523.10 413.40,523.10 C413.58,524.07 413.85,524.68 414.10,530.10 C414.35,535.52 414.62,546.92 414.90,555.60 C415.18,564.28 415.50,576.42 415.80,582.20 C416.10,587.98 416.27,588.60 416.70,590.30 C417.13,592.00 417.47,591.95 418.40,592.40 C419.33,592.85 421.65,592.90 422.30,593.00" fill="none" stroke="#222" stroke-width="1.1" stroke-linejoin="round"/>
<line x1="47.00" y1="615.60" x2="120.50" y2="615.60" stroke="#888" stroke-width="1.2"/>
<line x1="120.50" y1="615.60" x2="120.50" y2="689.20" stroke="#888" stroke-width="1.2"/>
<line x1="47.00" y1="615.30" x2="47.00" y2="689.20" stroke="#1a1a1a" stroke-width="1.3"/>
<line x1="47.00" y1="689.20" x2="121.00" y2="689.20" stroke="#333" stroke-width="1.1"/>
<line x1="45.00" y1="689.20" x2="47.00" y2="689.20" stroke="#555" stroke-width="1"/>
<line x1="45.80" y1="684.29" x2="47.00" y2="684.29" stroke="#888" stroke-width="0.8"/>
<line x1="45.80" y1="679.39" x2="47.00" y2="679.39" stroke="#888" stroke-width="0.8"/>
<line x1="45.80" y1="674.48" x2="47.00" y2="674.48" stroke="#888" stroke-width="0.8"/>
<line x1="45.80" y1="669.57" x2="47.00" y2="669.57" stroke="#888" stroke-width="0.8"/>
<text transform="translate(31.95,694.95) scale(1.1048,1)" font-size="10.282" fill="#000" stroke="#000" stroke-width="0.22">0</text>
<line x1="45.00" y1="664.67" x2="47.00" y2="664.67" stroke="#555" stroke-width="1"/>
<line x1="45.80" y1="659.76" x2="47.00" y2="659.76" stroke="#888" stroke-width="0.8"/>
<line x1="45.80" y1="654.85" x2="47.00" y2="654.85" stroke="#888" stroke-width="0.8"/>
<line x1="45.80" y1="649.95" x2="47.00" y2="649.95" stroke="#888" stroke-width="0.8"/>
<line x1="45.80" y1="645.04" x2="47.00" y2="645.04" stroke="#888" stroke-width="0.8"/>
<text transform="translate(30.10,670.41) scale(1.1048,1)" font-size="10.282" fill="#000" stroke="#000" stroke-width="0.22">10</text>
<line x1="45.00" y1="640.13" x2="47.00" y2="640.13" stroke="#555" stroke-width="1"/>
<line x1="45.80" y1="635.23" x2="47.00" y2="635.23" stroke="#888" stroke-width="0.8"/>
<line x1="45.80" y1="630.32" x2="47.00" y2="630.32" stroke="#888" stroke-width="0.8"/>
<line x1="45.80" y1="625.41" x2="47.00" y2="625.41" stroke="#888" stroke-width="0.8"/>
<line x1="45.80" y1="620.51" x2="47.00" y2="620.51" stroke="#888" stroke-width="0.8"/>
<text transform="translate(30.24,645.88) scale(1.1048,1)" font-size="10.282" fill="#000" stroke="#000" stroke-width="0.22">20</text>
<line x1="45.00" y1="615.60" x2="47.00" y2="615.60" stroke="#555" stroke-width="1"/>
<text transform="translate(30.30,621.35) scale(1.1048,1)" font-size="10.282" fill="#000" stroke="#000" stroke-width="0.22">30</text>
<line x1="56.19" y1="689.20" x2="56.19" y2="690.70" stroke="#777" stroke-width="0.8"/>
<line x1="65.38" y1="689.20" x2="65.38" y2="690.70" stroke="#777" stroke-width="0.8"/>
<line x1="74.56" y1="689.20" x2="74.56" y2="690.70" stroke="#777" stroke-width="0.8"/>
<line x1="83.75" y1="689.20" x2="83.75" y2="690.70" stroke="#777" stroke-width="0.8"/>
<line x1="92.94" y1="689.20" x2="92.94" y2="690.70" stroke="#777" stroke-width="0.8"/>
<line x1="102.12" y1="689.20" x2="102.12" y2="690.70" stroke="#777" stroke-width="0.8"/>
<line x1="111.31" y1="689.20" x2="111.31" y2="690.70" stroke="#777" stroke-width="0.8"/>
<path d="M47.20,615.60 C51.05,615.60 66.40,615.60 70.30,615.60 C70.60,615.75 70.48,615.60 70.60,616.50 C70.72,617.77 70.75,619.30 71.00,623.20 C71.25,627.10 71.72,634.68 72.10,639.90 C72.48,645.12 72.87,650.40 73.30,654.50 C73.73,658.60 74.33,662.47 74.70,664.50 C75.07,666.53 75.08,665.87 75.50,666.70 C75.92,667.53 76.55,668.47 77.20,669.50 C77.85,670.53 78.67,671.78 79.40,672.90 C80.13,674.02 81.03,675.83 81.60,676.20 C82.17,676.20 82.33,675.65 82.80,675.10 C83.27,674.55 83.85,673.08 84.40,672.90 C84.95,672.90 85.58,673.53 86.10,674.00 C86.62,674.47 87.13,674.95 87.50,675.70 C87.87,676.45 87.97,678.50 88.30,678.50 C88.63,678.32 89.12,675.63 89.50,674.60 C89.88,673.57 90.23,672.30 90.60,672.30 C90.97,672.38 91.33,674.82 91.70,675.10 C92.07,675.10 92.33,674.55 92.80,674.00 C93.27,673.45 94.03,671.98 94.50,671.80 C94.97,671.80 95.23,672.25 95.60,672.90 C95.97,673.55 96.23,675.15 96.70,675.70 C97.17,676.20 97.93,676.20 98.40,676.20 C98.87,676.10 99.13,675.10 99.50,675.10 C99.87,675.57 100.22,677.42 100.60,679.00 C100.98,680.58 101.33,683.38 101.80,684.60 C102.27,685.82 102.85,685.92 103.40,686.30 C103.95,686.68 104.45,686.53 105.10,686.90 C105.75,687.27 106.37,688.17 107.30,688.50 C108.23,688.83 108.53,688.80 110.70,688.90 C112.87,689.00 118.70,689.07 120.30,689.10" fill="none" stroke="#222" stroke-width="1.0" stroke-linejoin="round"/>
<line x1="86.25" y1="641.20" x2="120.50" y2="641.20" stroke="#000" stroke-width="2.5"/>
<line x1="146.80" y1="615.60" x2="220.70" y2="615.60" stroke="#888" stroke-width="1.2"/>
<line x1="220.70" y1="615.60" x2="220.70" y2="689.20" stroke="#888" stroke-width="1.2"/>
<line x1="146.80" y1="615.30" x2="146.80" y2="689.20" stroke="#1a1a1a" stroke-width="1.3"/>
<line x1="146.80" y1="689.20" x2="221.20" y2="689.20" stroke="#333" stroke-width="1.1"/>
<line x1="144.80" y1="689.20" x2="146.80" y2="689.20" stroke="#555" stroke-width="1"/>
<line x1="145.60" y1="684.29" x2="146.80" y2="684.29" stroke="#888" stroke-width="0.8"/>
<line x1="145.60" y1="679.39" x2="146.80" y2="679.39" stroke="#888" stroke-width="0.8"/>
<line x1="145.60" y1="674.48" x2="146.80" y2="674.48" stroke="#888" stroke-width="0.8"/>
<line x1="145.60" y1="669.57" x2="146.80" y2="669.57" stroke="#888" stroke-width="0.8"/>
<text transform="translate(131.75,694.95) scale(1.1048,1)" font-size="10.282" fill="#000" stroke="#000" stroke-width="0.22">0</text>
<line x1="144.80" y1="664.67" x2="146.80" y2="664.67" stroke="#555" stroke-width="1"/>
<line x1="145.60" y1="659.76" x2="146.80" y2="659.76" stroke="#888" stroke-width="0.8"/>
<line x1="145.60" y1="654.85" x2="146.80" y2="654.85" stroke="#888" stroke-width="0.8"/>
<line x1="145.60" y1="649.95" x2="146.80" y2="649.95" stroke="#888" stroke-width="0.8"/>
<line x1="145.60" y1="645.04" x2="146.80" y2="645.04" stroke="#888" stroke-width="0.8"/>
<text transform="translate(129.90,670.41) scale(1.1048,1)" font-size="10.282" fill="#000" stroke="#000" stroke-width="0.22">10</text>
<line x1="144.80" y1="640.13" x2="146.80" y2="640.13" stroke="#555" stroke-width="1"/>
<line x1="145.60" y1="635.23" x2="146.80" y2="635.23" stroke="#888" stroke-width="0.8"/>
<line x1="145.60" y1="630.32" x2="146.80" y2="630.32" stroke="#888" stroke-width="0.8"/>
<line x1="145.60" y1="625.41" x2="146.80" y2="625.41" stroke="#888" stroke-width="0.8"/>
<line x1="145.60" y1="620.51" x2="146.80" y2="620.51" stroke="#888" stroke-width="0.8"/>
<text transform="translate(130.04,645.88) scale(1.1048,1)" font-size="10.282" fill="#000" stroke="#000" stroke-width="0.22">20</text>
<line x1="144.80" y1="615.60" x2="146.80" y2="615.60" stroke="#555" stroke-width="1"/>
<text transform="translate(130.10,621.35) scale(1.1048,1)" font-size="10.282" fill="#000" stroke="#000" stroke-width="0.22">30</text>
<line x1="156.04" y1="689.20" x2="156.04" y2="690.70" stroke="#777" stroke-width="0.8"/>
<line x1="165.28" y1="689.20" x2="165.28" y2="690.70" stroke="#777" stroke-width="0.8"/>
<line x1="174.51" y1="689.20" x2="174.51" y2="690.70" stroke="#777" stroke-width="0.8"/>
<line x1="183.75" y1="689.20" x2="183.75" y2="690.70" stroke="#777" stroke-width="0.8"/>
<line x1="192.99" y1="689.20" x2="192.99" y2="690.70" stroke="#777" stroke-width="0.8"/>
<line x1="202.22" y1="689.20" x2="202.22" y2="690.70" stroke="#777" stroke-width="0.8"/>
<line x1="211.46" y1="689.20" x2="211.46" y2="690.70" stroke="#777" stroke-width="0.8"/>
<path d="M147.00,615.70 C151.17,615.70 167.78,615.70 172.00,615.70 C172.30,616.00 172.15,615.70 172.30,617.50 C172.45,619.68 172.65,624.50 172.90,628.80 C173.15,633.10 173.50,639.40 173.80,643.30 C174.10,647.20 174.42,649.87 174.70,652.20 C174.98,654.53 175.23,657.12 175.50,657.30 C175.77,657.30 176.05,653.68 176.30,653.30 C176.55,653.30 176.67,653.32 177.00,655.00 C177.33,656.68 177.80,660.70 178.30,663.40 C178.80,666.10 179.45,668.78 180.00,671.20 C180.55,673.62 181.10,677.33 181.60,677.90 C182.10,677.90 182.53,676.00 183.00,674.60 C183.47,673.20 183.88,670.07 184.40,669.50 C184.92,669.50 185.53,670.63 186.10,671.20 C186.67,671.77 187.33,672.90 187.80,672.90 C188.27,672.90 188.43,671.95 188.90,671.20 C189.37,670.45 190.03,668.40 190.60,668.40 C191.17,668.58 191.83,671.18 192.30,672.30 C192.77,673.42 192.98,675.10 193.40,675.10 C193.82,674.37 194.33,668.27 194.80,667.90 C195.27,667.90 195.70,671.42 196.20,672.90 C196.70,674.38 197.25,675.63 197.80,676.80 C198.35,677.97 199.03,679.62 199.50,679.90 C199.97,679.90 200.22,678.83 200.60,678.50 C200.98,678.17 201.42,677.90 201.80,677.90 C202.18,678.55 202.45,681.10 202.90,682.40 C203.35,683.70 203.85,684.73 204.50,685.70 C205.15,686.67 205.77,687.67 206.80,688.20 C207.83,688.73 208.42,688.75 210.70,688.90 C212.98,689.05 218.87,689.07 220.50,689.10" fill="none" stroke="#222" stroke-width="1.0" stroke-linejoin="round"/>
<line x1="186.10" y1="641.50" x2="220.70" y2="641.50" stroke="#000" stroke-width="2.5"/>
<line x1="246.80" y1="615.60" x2="320.70" y2="615.60" stroke="#888" stroke-width="1.2"/>
<line x1="320.70" y1="615.60" x2="320.70" y2="689.20" stroke="#888" stroke-width="1.2"/>
<line x1="246.80" y1="615.30" x2="246.80" y2="689.20" stroke="#1a1a1a" stroke-width="1.3"/>
<line x1="246.80" y1="689.20" x2="321.20" y2="689.20" stroke="#333" stroke-width="1.1"/>
<line x1="244.80" y1="689.20" x2="246.80" y2="689.20" stroke="#555" stroke-width="1"/>
<line x1="245.60" y1="684.29" x2="246.80" y2="684.29" stroke="#888" stroke-width="0.8"/>
<line x1="245.60" y1="679.39" x2="246.80" y2="679.39" stroke="#888" stroke-width="0.8"/>
<line x1="245.60" y1="674.48" x2="246.80" y2="674.48" stroke="#888" stroke-width="0.8"/>
<line x1="245.60" y1="669.57" x2="246.80" y2="669.57" stroke="#888" stroke-width="0.8"/>
<text transform="translate(231.75,694.95) scale(1.1048,1)" font-size="10.282" fill="#000" stroke="#000" stroke-width="0.22">0</text>
<line x1="244.80" y1="664.67" x2="246.80" y2="664.67" stroke="#555" stroke-width="1"/>
<line x1="245.60" y1="659.76" x2="246.80" y2="659.76" stroke="#888" stroke-width="0.8"/>
<line x1="245.60" y1="654.85" x2="246.80" y2="654.85" stroke="#888" stroke-width="0.8"/>
<line x1="245.60" y1="649.95" x2="246.80" y2="649.95" stroke="#888" stroke-width="0.8"/>
<line x1="245.60" y1="645.04" x2="246.80" y2="645.04" stroke="#888" stroke-width="0.8"/>
<text transform="translate(229.90,670.41) scale(1.1048,1)" font-size="10.282" fill="#000" stroke="#000" stroke-width="0.22">10</text>
<line x1="244.80" y1="640.13" x2="246.80" y2="640.13" stroke="#555" stroke-width="1"/>
<line x1="245.60" y1="635.23" x2="246.80" y2="635.23" stroke="#888" stroke-width="0.8"/>
<line x1="245.60" y1="630.32" x2="246.80" y2="630.32" stroke="#888" stroke-width="0.8"/>
<line x1="245.60" y1="625.41" x2="246.80" y2="625.41" stroke="#888" stroke-width="0.8"/>
<line x1="245.60" y1="620.51" x2="246.80" y2="620.51" stroke="#888" stroke-width="0.8"/>
<text transform="translate(230.04,645.88) scale(1.1048,1)" font-size="10.282" fill="#000" stroke="#000" stroke-width="0.22">20</text>
<line x1="244.80" y1="615.60" x2="246.80" y2="615.60" stroke="#555" stroke-width="1"/>
<text transform="translate(230.10,621.35) scale(1.1048,1)" font-size="10.282" fill="#000" stroke="#000" stroke-width="0.22">30</text>
<line x1="256.04" y1="689.20" x2="256.04" y2="690.70" stroke="#777" stroke-width="0.8"/>
<line x1="265.27" y1="689.20" x2="265.27" y2="690.70" stroke="#777" stroke-width="0.8"/>
<line x1="274.51" y1="689.20" x2="274.51" y2="690.70" stroke="#777" stroke-width="0.8"/>
<line x1="283.75" y1="689.20" x2="283.75" y2="690.70" stroke="#777" stroke-width="0.8"/>
<line x1="292.99" y1="689.20" x2="292.99" y2="690.70" stroke="#777" stroke-width="0.8"/>
<line x1="302.23" y1="689.20" x2="302.23" y2="690.70" stroke="#777" stroke-width="0.8"/>
<line x1="311.46" y1="689.20" x2="311.46" y2="690.70" stroke="#777" stroke-width="0.8"/>
<path d="M247.00,615.70 C251.72,615.70 270.50,615.70 275.30,615.70 C275.80,615.78 275.58,615.70 275.80,616.20 C276.02,617.00 276.37,618.55 276.60,620.50 C276.83,622.45 276.98,624.90 277.20,627.90 C277.42,630.90 277.68,636.12 277.90,638.50 C278.12,640.88 278.27,641.42 278.50,642.20 C278.73,642.98 279.05,642.58 279.30,643.20 C279.55,643.82 279.78,644.40 280.00,645.90 C280.22,647.40 280.42,652.03 280.60,652.20 C280.78,652.20 280.88,647.43 281.10,646.90 C281.32,646.90 281.63,647.85 281.90,649.00 C282.17,650.15 282.38,653.27 282.70,653.80 C283.02,653.80 283.45,652.82 283.80,652.20 C284.15,651.58 284.45,650.45 284.80,650.10 C285.15,650.10 285.63,650.10 285.90,650.10 C286.17,649.03 286.23,645.38 286.40,643.70 C286.57,642.02 286.55,640.97 286.90,640.00 C287.25,639.03 288.10,639.03 288.50,637.90 C288.90,636.77 289.12,635.22 289.30,633.20 C289.48,631.18 289.43,626.17 289.60,625.80 C289.77,625.80 290.03,631.00 290.30,631.00 C290.57,630.82 290.93,624.78 291.20,624.70 C291.47,624.70 291.63,630.50 291.90,630.50 C292.17,630.32 292.53,623.87 292.80,623.60 C293.07,623.60 293.20,628.90 293.50,628.90 C293.80,628.65 294.28,622.45 294.60,622.10 C294.92,622.10 295.08,626.80 295.40,626.80 C295.72,626.53 296.18,621.03 296.50,620.50 C296.82,620.50 296.98,623.60 297.30,623.60 C297.62,623.15 298.02,619.12 298.40,617.80 C298.78,616.48 299.22,615.78 299.60,615.70 C299.98,615.70 300.43,615.70 300.70,617.30 C300.97,621.10 300.93,632.68 301.20,638.50 C301.47,644.32 301.95,648.33 302.30,652.20 C302.65,656.07 302.85,657.70 303.30,661.70 C303.75,665.70 304.33,672.25 305.00,676.20 C305.67,680.15 306.45,683.48 307.30,685.40 C308.15,687.32 309.13,687.20 310.10,687.70 C311.07,688.20 311.37,688.15 313.10,688.40 C314.83,688.65 319.27,689.07 320.50,689.20" fill="none" stroke="#222" stroke-width="1.0" stroke-linejoin="round"/>
<line x1="286.10" y1="640.40" x2="320.70" y2="640.40" stroke="#000" stroke-width="2.5"/>
<line x1="346.20" y1="615.60" x2="420.00" y2="615.60" stroke="#888" stroke-width="1.2"/>
<line x1="420.00" y1="615.60" x2="420.00" y2="689.20" stroke="#888" stroke-width="1.2"/>
<line x1="346.20" y1="615.30" x2="346.20" y2="689.20" stroke="#1a1a1a" stroke-width="1.3"/>
<line x1="346.20" y1="689.20" x2="420.50" y2="689.20" stroke="#333" stroke-width="1.1"/>
<line x1="344.20" y1="689.20" x2="346.20" y2="689.20" stroke="#555" stroke-width="1"/>
<line x1="345.00" y1="684.29" x2="346.20" y2="684.29" stroke="#888" stroke-width="0.8"/>
<line x1="345.00" y1="679.39" x2="346.20" y2="679.39" stroke="#888" stroke-width="0.8"/>
<line x1="345.00" y1="674.48" x2="346.20" y2="674.48" stroke="#888" stroke-width="0.8"/>
<line x1="345.00" y1="669.57" x2="346.20" y2="669.57" stroke="#888" stroke-width="0.8"/>
<text transform="translate(331.15,694.95) scale(1.1048,1)" font-size="10.282" fill="#000" stroke="#000" stroke-width="0.22">0</text>
<line x1="344.20" y1="664.67" x2="346.20" y2="664.67" stroke="#555" stroke-width="1"/>
<line x1="345.00" y1="659.76" x2="346.20" y2="659.76" stroke="#888" stroke-width="0.8"/>
<line x1="345.00" y1="654.85" x2="346.20" y2="654.85" stroke="#888" stroke-width="0.8"/>
<line x1="345.00" y1="649.95" x2="346.20" y2="649.95" stroke="#888" stroke-width="0.8"/>
<line x1="345.00" y1="645.04" x2="346.20" y2="645.04" stroke="#888" stroke-width="0.8"/>
<text transform="translate(329.30,670.41) scale(1.1048,1)" font-size="10.282" fill="#000" stroke="#000" stroke-width="0.22">10</text>
<line x1="344.20" y1="640.13" x2="346.20" y2="640.13" stroke="#555" stroke-width="1"/>
<line x1="345.00" y1="635.23" x2="346.20" y2="635.23" stroke="#888" stroke-width="0.8"/>
<line x1="345.00" y1="630.32" x2="346.20" y2="630.32" stroke="#888" stroke-width="0.8"/>
<line x1="345.00" y1="625.41" x2="346.20" y2="625.41" stroke="#888" stroke-width="0.8"/>
<line x1="345.00" y1="620.51" x2="346.20" y2="620.51" stroke="#888" stroke-width="0.8"/>
<text transform="translate(329.44,645.88) scale(1.1048,1)" font-size="10.282" fill="#000" stroke="#000" stroke-width="0.22">20</text>
<line x1="344.20" y1="615.60" x2="346.20" y2="615.60" stroke="#555" stroke-width="1"/>
<text transform="translate(329.50,621.35) scale(1.1048,1)" font-size="10.282" fill="#000" stroke="#000" stroke-width="0.22">30</text>
<line x1="355.43" y1="689.20" x2="355.43" y2="690.70" stroke="#777" stroke-width="0.8"/>
<line x1="364.65" y1="689.20" x2="364.65" y2="690.70" stroke="#777" stroke-width="0.8"/>
<line x1="373.88" y1="689.20" x2="373.88" y2="690.70" stroke="#777" stroke-width="0.8"/>
<line x1="383.10" y1="689.20" x2="383.10" y2="690.70" stroke="#777" stroke-width="0.8"/>
<line x1="392.32" y1="689.20" x2="392.32" y2="690.70" stroke="#777" stroke-width="0.8"/>
<line x1="401.55" y1="689.20" x2="401.55" y2="690.70" stroke="#777" stroke-width="0.8"/>
<line x1="410.77" y1="689.20" x2="410.77" y2="690.70" stroke="#777" stroke-width="0.8"/>
<path d="M346.40,615.70 C350.93,615.70 368.88,615.70 373.60,615.70 C374.70,615.83 374.42,615.70 374.70,616.50 C374.98,617.75 375.12,619.30 375.30,623.20 C375.48,627.10 375.62,634.68 375.80,639.90 C375.98,645.12 376.12,651.88 376.40,654.50 C376.68,655.60 377.13,655.60 377.50,655.60 C377.87,655.60 378.23,654.50 378.60,654.50 C378.97,655.05 379.42,657.23 379.70,658.90 C379.98,660.57 380.05,664.50 380.30,664.50 C380.55,663.95 380.92,656.72 381.20,655.60 C381.48,655.60 381.75,656.87 382.00,657.80 C382.25,658.73 382.43,661.20 382.70,661.20 C382.97,660.08 383.30,652.88 383.60,651.10 C383.90,650.50 384.22,650.50 384.50,650.50 C384.78,651.80 385.03,656.10 385.30,658.90 C385.57,661.70 385.82,667.30 386.10,667.30 C386.38,666.57 386.70,658.32 387.00,654.50 C387.30,650.68 387.62,646.45 387.90,644.40 C388.18,642.35 388.43,642.20 388.70,642.20 C388.97,642.20 389.23,642.73 389.50,644.40 C389.77,646.07 390.07,652.20 390.30,652.20 C390.53,651.83 390.67,644.80 390.90,642.20 C391.13,639.60 391.42,636.60 391.70,636.60 C391.98,636.97 392.30,643.28 392.60,644.40 C392.90,644.40 393.20,643.30 393.50,643.30 C393.80,643.48 394.08,644.10 394.40,645.50 C394.72,646.90 395.05,651.70 395.40,651.70 C395.75,651.70 396.18,647.73 396.50,645.50 C396.82,643.27 397.02,638.30 397.30,638.30 C397.58,638.30 397.87,643.47 398.20,645.50 C398.53,647.53 398.93,650.32 399.30,650.50 C399.67,650.50 400.07,646.87 400.40,646.60 C400.73,646.60 401.02,646.85 401.30,648.90 C401.58,650.95 401.78,654.80 402.10,658.90 C402.42,663.00 402.83,669.40 403.20,673.50 C403.57,677.60 403.83,681.47 404.30,683.50 C404.77,685.53 405.25,685.05 406.00,685.70 C406.75,686.35 407.87,686.87 408.80,687.40 C409.73,687.93 409.83,688.62 411.60,688.90 C413.37,689.10 418.10,689.07 419.40,689.10" fill="none" stroke="#222" stroke-width="1.0" stroke-linejoin="round"/>
<line x1="386.10" y1="640.40" x2="420.00" y2="640.40" stroke="#000" stroke-width="2.5"/>
<line x1="444.30" y1="614.30" x2="514.10" y2="614.30" stroke="#888" stroke-width="1.2"/>
<line x1="514.10" y1="614.30" x2="514.10" y2="687.70" stroke="#888" stroke-width="1.2"/>
<line x1="444.30" y1="614.00" x2="444.30" y2="687.70" stroke="#1a1a1a" stroke-width="1.3"/>
<line x1="444.30" y1="687.70" x2="514.60" y2="687.70" stroke="#333" stroke-width="1.1"/>
<line x1="442.30" y1="687.70" x2="444.30" y2="687.70" stroke="#555" stroke-width="1"/>
<line x1="443.10" y1="682.81" x2="444.30" y2="682.81" stroke="#888" stroke-width="0.8"/>
<line x1="443.10" y1="677.91" x2="444.30" y2="677.91" stroke="#888" stroke-width="0.8"/>
<line x1="443.10" y1="673.02" x2="444.30" y2="673.02" stroke="#888" stroke-width="0.8"/>
<line x1="443.10" y1="668.13" x2="444.30" y2="668.13" stroke="#888" stroke-width="0.8"/>
<text transform="translate(429.25,693.45) scale(1.1048,1)" font-size="10.282" fill="#000" stroke="#000" stroke-width="0.22">0</text>
<line x1="442.30" y1="663.23" x2="444.30" y2="663.23" stroke="#555" stroke-width="1"/>
<line x1="443.10" y1="658.34" x2="444.30" y2="658.34" stroke="#888" stroke-width="0.8"/>
<line x1="443.10" y1="653.45" x2="444.30" y2="653.45" stroke="#888" stroke-width="0.8"/>
<line x1="443.10" y1="648.55" x2="444.30" y2="648.55" stroke="#888" stroke-width="0.8"/>
<line x1="443.10" y1="643.66" x2="444.30" y2="643.66" stroke="#888" stroke-width="0.8"/>
<text transform="translate(427.40,668.98) scale(1.1048,1)" font-size="10.282" fill="#000" stroke="#000" stroke-width="0.22">10</text>
<line x1="442.30" y1="638.77" x2="444.30" y2="638.77" stroke="#555" stroke-width="1"/>
<line x1="443.10" y1="633.87" x2="444.30" y2="633.87" stroke="#888" stroke-width="0.8"/>
<line x1="443.10" y1="628.98" x2="444.30" y2="628.98" stroke="#888" stroke-width="0.8"/>
<line x1="443.10" y1="624.09" x2="444.30" y2="624.09" stroke="#888" stroke-width="0.8"/>
<line x1="443.10" y1="619.19" x2="444.30" y2="619.19" stroke="#888" stroke-width="0.8"/>
<text transform="translate(427.54,644.51) scale(1.1048,1)" font-size="10.282" fill="#000" stroke="#000" stroke-width="0.22">20</text>
<line x1="442.30" y1="614.30" x2="444.30" y2="614.30" stroke="#555" stroke-width="1"/>
<text transform="translate(427.60,620.05) scale(1.1048,1)" font-size="10.282" fill="#000" stroke="#000" stroke-width="0.22">30</text>
<line x1="453.03" y1="687.70" x2="453.03" y2="689.20" stroke="#777" stroke-width="0.8"/>
<line x1="461.75" y1="687.70" x2="461.75" y2="689.20" stroke="#777" stroke-width="0.8"/>
<line x1="470.48" y1="687.70" x2="470.48" y2="689.20" stroke="#777" stroke-width="0.8"/>
<line x1="479.20" y1="687.70" x2="479.20" y2="689.20" stroke="#777" stroke-width="0.8"/>
<line x1="487.93" y1="687.70" x2="487.93" y2="689.20" stroke="#777" stroke-width="0.8"/>
<line x1="496.65" y1="687.70" x2="496.65" y2="689.20" stroke="#777" stroke-width="0.8"/>
<line x1="505.38" y1="687.70" x2="505.38" y2="689.20" stroke="#777" stroke-width="0.8"/>
<path d="M444.50,614.40 C447.92,614.40 461.48,614.40 465.00,614.40 C465.60,615.48 465.32,617.95 465.60,620.90 C465.88,623.85 466.33,628.37 466.70,632.10 C467.07,635.83 467.43,640.50 467.80,643.30 C468.17,646.10 468.57,646.48 468.90,648.90 C469.23,651.32 469.42,655.75 469.80,657.80 C470.18,659.85 470.75,660.45 471.20,661.20 C471.65,661.95 472.13,661.57 472.50,662.30 C472.87,663.03 473.07,665.52 473.40,665.60 C473.73,665.60 474.17,662.80 474.50,662.80 C474.83,663.37 475.07,666.48 475.40,669.00 C475.73,671.52 476.08,677.07 476.50,677.90 C476.92,677.90 477.48,674.00 477.90,674.00 C478.32,674.00 478.63,676.60 479.00,677.90 C479.37,679.20 479.55,680.68 480.10,681.80 C480.65,682.92 481.47,683.85 482.30,684.60 C483.13,685.35 483.60,685.97 485.10,686.30 C486.60,686.60 489.73,686.60 491.30,686.60 C492.87,686.57 493.38,686.22 494.50,686.10 C495.62,685.98 496.92,685.90 498.00,685.90 C499.08,685.97 499.88,686.33 501.00,686.50 C502.12,686.67 502.57,686.77 504.70,686.90 C506.83,687.03 512.28,687.23 513.80,687.30" fill="none" stroke="#222" stroke-width="1.0" stroke-linejoin="round"/>
<line x1="481.80" y1="639.50" x2="514.10" y2="639.50" stroke="#000" stroke-width="2.5"/>
</g>
</svg>
</body></html>
